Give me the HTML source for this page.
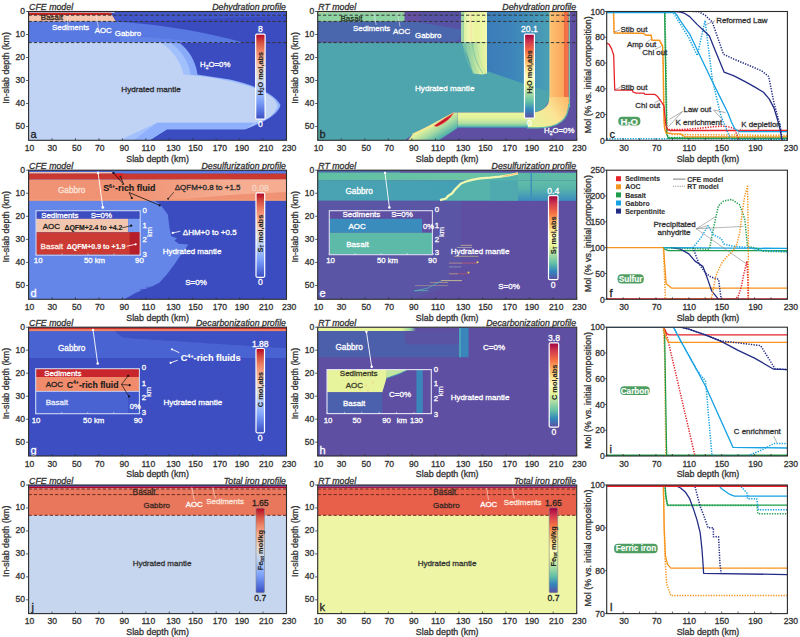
<!DOCTYPE html>
<html><head><meta charset="utf-8"><title>Slab profiles</title>
<style>html,body{margin:0;padding:0;background:#fff;width:800px;height:637px;overflow:hidden}svg{display:block}</style>
</head><body>
<svg width="800" height="637" viewBox="0 0 800 637" font-family='"Liberation Sans", Arial, sans-serif'><defs><linearGradient id="gcw" x1="0" y1="0" x2="0" y2="1"><stop offset="0" stop-color="#b30326"/><stop offset="0.1" stop-color="#d65243"/><stop offset="0.2" stop-color="#ed8467"/><stop offset="0.3" stop-color="#f6ab8d"/><stop offset="0.4" stop-color="#f1cab6"/><stop offset="0.5" stop-color="#dddcdb"/><stop offset="0.6" stop-color="#c0d3f5"/><stop offset="0.7" stop-color="#9dbdfe"/><stop offset="0.8" stop-color="#7b9ef8"/><stop offset="0.9" stop-color="#5876e2"/><stop offset="1" stop-color="#3a4cc0"/></linearGradient><linearGradient id="gsp" x1="0" y1="0" x2="0" y2="1"><stop offset="0" stop-color="#9e0142"/><stop offset="0.1" stop-color="#d33c4e"/><stop offset="0.2" stop-color="#f46d43"/><stop offset="0.3" stop-color="#fcac60"/><stop offset="0.4" stop-color="#fee08b"/><stop offset="0.5" stop-color="#fefebd"/><stop offset="0.6" stop-color="#e6f598"/><stop offset="0.7" stop-color="#a9dca4"/><stop offset="0.8" stop-color="#66c2a5"/><stop offset="0.9" stop-color="#3286bc"/><stop offset="1" stop-color="#5e4fa2"/></linearGradient><clipPath id="ca"><rect x="28.6" y="11.5" width="257.9" height="128.8"/></clipPath><clipPath id="cb"><rect x="317.7" y="11.5" width="259" height="128.8"/></clipPath><linearGradient id="gbblue" x1="0" y1="0" x2="1" y2="0"><stop offset="0" stop-color="#3b72b6"/><stop offset="0.6" stop-color="#3d86bb"/><stop offset="1" stop-color="#4aa0b4"/></linearGradient><linearGradient id="gbyel" x1="0" y1="0" x2="1" y2="0"><stop offset="0" stop-color="#c9e99d"/><stop offset="0.3" stop-color="#f0f8b0"/><stop offset="0.6" stop-color="#e9f59c"/><stop offset="1" stop-color="#f4fab0"/></linearGradient><linearGradient id="gborange" x1="0" y1="0" x2="1" y2="0"><stop offset="0" stop-color="#fee08b"/><stop offset="0.08" stop-color="#fdc070"/><stop offset="0.5" stop-color="#fcb265"/><stop offset="0.85" stop-color="#fba55c"/><stop offset="0.9" stop-color="#f46d43"/><stop offset="1" stop-color="#f46d43"/></linearGradient><linearGradient id="gbhz" x1="0" y1="0" x2="0" y2="1"><stop offset="0" stop-color="#eaf6a0"/><stop offset="0.35" stop-color="#e2f39c"/><stop offset="0.7" stop-color="#b2dfa2"/><stop offset="0.88" stop-color="#6ec4a6"/><stop offset="1" stop-color="#3a8cbd"/></linearGradient><linearGradient id="gbfan" x1="0" y1="0" x2="0" y2="1"><stop offset="0" stop-color="#e6f598"/><stop offset="1" stop-color="#7cc9a4"/></linearGradient><linearGradient id="gbfan2" gradientUnits="userSpaceOnUse" x1="461" y1="0" x2="487" y2="0"><stop offset="0" stop-color="#62b8a8"/><stop offset="0.45" stop-color="#a8daa2"/><stop offset="0.75" stop-color="#d8efa0"/><stop offset="1" stop-color="#eaf5a4"/></linearGradient><linearGradient id="gbcorner" gradientUnits="userSpaceOnUse" x1="566" y1="98" x2="530" y2="122"><stop offset="0" stop-color="#fdbb6c"/><stop offset="0.45" stop-color="#fbe596"/><stop offset="1" stop-color="#e4f39c"/></linearGradient><linearGradient id="gbdiag" gradientUnits="userSpaceOnUse" x1="438" y1="121" x2="449" y2="139"><stop offset="0" stop-color="#e0f29e"/><stop offset="0.35" stop-color="#a6daa3"/><stop offset="0.7" stop-color="#5cb8aa"/><stop offset="1" stop-color="#3d8cbc"/></linearGradient><clipPath id="cc"><rect x="606.7" y="11.5" width="180.7" height="128.8"/></clipPath><clipPath id="cf"><rect x="606.7" y="170.2" width="180.7" height="129.1"/></clipPath><clipPath id="ci"><rect x="606.7" y="327.2" width="180.7" height="128.8"/></clipPath><clipPath id="cl"><rect x="606.7" y="485" width="180.7" height="128.6"/></clipPath><clipPath id="cd"><rect x="28.6" y="170.2" width="257.9" height="129.1"/></clipPath><linearGradient id="gdsal" gradientUnits="userSpaceOnUse" x1="130" y1="0" x2="230" y2="0"><stop offset="0" stop-color="#f6b094" stop-opacity="0"/><stop offset="1" stop-color="#f6b094" stop-opacity="0.9"/></linearGradient><clipPath id="ce"><rect x="317.7" y="170.2" width="259" height="129.1"/></clipPath><linearGradient id="gegab" x1="0" y1="0" x2="1" y2="0"><stop offset="0" stop-color="#4aa3b2"/><stop offset="0.5" stop-color="#44a0b4"/><stop offset="0.75" stop-color="#3d90b9"/><stop offset="1" stop-color="#3a8bbb"/></linearGradient><linearGradient id="getop" x1="0" y1="0" x2="1" y2="0"><stop offset="0" stop-color="#5fc0a5"/><stop offset="0.6" stop-color="#6cc4a4"/><stop offset="0.8" stop-color="#5cb9a8"/><stop offset="1" stop-color="#60bea6"/></linearGradient><linearGradient id="geright" x1="0" y1="0" x2="0" y2="1"><stop offset="0" stop-color="#62bea6"/><stop offset="0.45" stop-color="#55b2ab"/><stop offset="1" stop-color="#3a8cbd"/></linearGradient><clipPath id="cg"><rect x="28.6" y="327.2" width="257.9" height="128.8"/></clipPath><clipPath id="ch"><rect x="317.7" y="327.2" width="259" height="128.8"/></clipPath><linearGradient id="ghtop" x1="0" y1="0" x2="1" y2="0"><stop offset="0" stop-color="#eaf59e"/><stop offset="0.85" stop-color="#e6f49a"/><stop offset="0.95" stop-color="#8fd0a4"/><stop offset="1" stop-color="#5e4fa2"/></linearGradient><clipPath id="cj"><rect x="28.6" y="485" width="257.9" height="128.6"/></clipPath><clipPath id="ck"><rect x="317.7" y="485" width="259" height="128.6"/></clipPath></defs><g clip-path="url(#ca)">
<rect x="28.6" y="11.5" width="257.9" height="128.8" fill="#3b4cc0" />
<polygon points="113,12 287,12 287,16 230,18 180,20 140,21.4 116,21.4" fill="#4257c9" />
<path d="M28.6,21.4 L116,21.4 C150,23.5 200,30 245,43 L28.6,43 Z" fill="#5878e2" stroke="none" stroke-width="1" />
<path d="M120,36 C150,37 175,39 200,43 L120,43 Z" fill="#6283e8" stroke="none" stroke-width="1" />
<path d="M28.6,42.6 L179,42.6 C189,50 196,62 197.5,74.5 L230,79.5 C255,85 275,94 280.5,105 C279,114 265,122 245,129.4 L167,129.4 L149.5,140.3 L28.6,140.3 Z" fill="#88aaf9" stroke="none" stroke-width="1" />
<path d="M28.6,42.6 L170,42.6 C181,50 189,62 190.5,74.5 L230,80 C255,86 273,95 279,105.5 C277,113 264,121 246,128.8 L167,128.8 L149.5,140.3 L28.6,140.3 Z" fill="#a2c0fc" stroke="none" stroke-width="1" />
<polygon points="157.4,122.4 254,122.4 246,128.8 167,128.8 149.5,140.3 133.7,140.3" fill="#8eaffc" />
<path d="M28.6,42.6 L161,42.6 C172,50 181,62 183.5,74.5 L200,76 C230,80 262,88 273,98 C279,104 278,110 270,117 C265,120 260,122 254,122.4 L157.4,122.4 L122.4,139 L120,140.3 L28.6,140.3 Z" fill="#c0d3f5" stroke="none" stroke-width="1" />
<rect x="28.6" y="11.5" width="86" height="1.3" fill="#e4e6ee" />
<polygon points="28.6,12.7 111,12.7 112,15.1 28.6,15.1" fill="#d42a24" />
<polygon points="28.6,15.1 112,15.1 116,21.4 28.6,21.4" fill="#f5c6ad" />
<line x1="28.6" y1="14.3" x2="112" y2="14.3" stroke="#8a1010" stroke-width="0.7" stroke-dasharray="1.5,1.5"/>
</g>
<line x1="28.6" y1="15.2" x2="286.5" y2="15.2" stroke="#333" stroke-width="1" stroke-dasharray="3.2,2.1"/>
<line x1="28.6" y1="21.4" x2="286.5" y2="21.4" stroke="#333" stroke-width="1" stroke-dasharray="3.2,2.1"/>
<line x1="28.6" y1="42.6" x2="286.5" y2="42.6" stroke="#333" stroke-width="1" stroke-dasharray="3.2,2.1"/>
<line x1="68" y1="25" x2="67" y2="16" stroke="#e8eefc" stroke-width="0.6" />
<line x1="98.5" y1="27.5" x2="96" y2="15.5" stroke="#e8eefc" stroke-width="0.6" />
<text x="40.8" y="20.4" font-size="8" fill="#3a2a20" text-anchor="start" font-weight="normal" font-style="normal" stroke="#3a2a20" stroke-width="0.3" >Basalt</text>
<text x="52" y="30" font-size="7.9" fill="#fff" text-anchor="start" font-weight="normal" font-style="normal" stroke="#fff" stroke-width="0.3" >Sediments</text>
<text x="94.7" y="33.4" font-size="7.9" fill="#fff" text-anchor="start" font-weight="normal" font-style="normal" stroke="#fff" stroke-width="0.3" >AOC</text>
<text x="114.8" y="36" font-size="7.9" fill="#fff" text-anchor="start" font-weight="normal" font-style="normal" stroke="#fff" stroke-width="0.3" >Gabbro</text>
<text x="200" y="67" font-size="7.8" fill="#fff" text-anchor="start" font-weight="normal" font-style="normal" stroke="#fff" stroke-width="0.3" >H<tspan font-size="5" dy="1.5">2</tspan><tspan dy="-1.5">O=0%</tspan></text>
<text x="151" y="91.8" font-size="8.1" fill="#2a2a2a" text-anchor="middle" font-weight="normal" font-style="normal" stroke="#2a2a2a" stroke-width="0.3" >Hydrated mantle</text>
<rect x="255.7" y="34.1" width="9.4" height="85.1" rx="1.2" fill="url(#gcw)" stroke="#fff" stroke-width="1.2"/>
<text x="260.4" y="32.3" font-size="8.6" fill="#fff" text-anchor="middle" font-weight="normal" font-style="normal" stroke="#fff" stroke-width="0.3" >8</text>
<text x="260.4" y="127" font-size="8.6" fill="#fff" text-anchor="middle" font-weight="normal" font-style="normal" stroke="#fff" stroke-width="0.3" >0</text>
<text transform="translate(263,73.6) rotate(-90)" font-size="7.4" font-weight="bold" fill="#222" stroke="#222" stroke-width="0.1" text-anchor="middle">H<tspan font-size="4.5" dy="1.2">2</tspan><tspan dy="-1.2">O mol,abs</tspan></text>
<text x="30.5" y="137.5" font-size="11" fill="#222" text-anchor="start" font-weight="normal" font-style="normal" stroke="#222" stroke-width="0.3" >a</text>
<rect x="28.6" y="11.5" width="257.9" height="128.8" fill="none" stroke="#2b2b2b" stroke-width="1.1"/>
<g clip-path="url(#cb)">
<rect x="317.7" y="11.5" width="259" height="128.8" fill="#5e4fa2" />
<rect x="461" y="11.5" width="89" height="90" fill="url(#gbblue)" />
<polygon points="404,12 420,12 420,21.4 404,21.4" fill="#6550a4" />
<polygon points="420,12 461,12 461,42.5 420,42.5" fill="#5653a6" />
<path d="M317.7,21.4 L415,21.4 L461,29.5 L461,35 Q461,41.5 453,41.5 L317.7,41.5 Z" fill="#4a67ad" stroke="none" stroke-width="1" />
<polygon points="317.7,42.5 461,42.5 470,52 480,64 487,71 527,84.8 549.5,92 549.5,100 545,108 536,112.5 453,112.5 412.5,134.5 405,140.3 317.7,140.3" fill="#4fa5ad" />
<rect x="461" y="11.5" width="26" height="31" fill="url(#gbyel)" />
<path d="M461,42.5 L487,42.5 L487,73.5 L482,74.5 L473,73.5 C470,62 466,50 461,42.5 Z" fill="url(#gbfan2)" stroke="none" stroke-width="1" />
<path d="M463,42.5 Q465,60 474,73.5" fill="none" stroke="#7cc6a6" stroke-width="0.7" />
<path d="M467,42.5 Q469,60 478,73.5" fill="none" stroke="#9ed6a2" stroke-width="0.7" />
<path d="M472,42.5 Q474,60 483,73.5" fill="none" stroke="#70c0a8" stroke-width="0.7" />
<path d="M476,42.5 Q478,60 486,73.5" fill="none" stroke="#b8e2a0" stroke-width="0.7" />
<rect x="461" y="11.5" width="3" height="31" fill="#9fd6a3" />
<rect x="470.5" y="11.5" width="1" height="31" fill="#fbe0a0" />
<rect x="549.5" y="11.5" width="16.5" height="93" fill="url(#gborange)" />
<rect x="566" y="11.5" width="2.7" height="93" fill="#f37048" />
<rect x="568.7" y="11.5" width="1.3" height="96" fill="#74c4a8" />
<path d="M549.5,97 C549.5,107 542,113 527,113 L527,127.8 L538,127.8 C560,127.8 568.7,118 568.7,104 L568.7,97 Z" fill="url(#gbcorner)" stroke="none" stroke-width="1" />
<path d="M527,127.8 L538,127.8 C560,127.8 568.7,118 568.7,104" fill="none" stroke="#5cb8a8" stroke-width="1.2" />
<polygon points="457.5,112.5 528,112.5 528,127.8 457.5,127.8" fill="url(#gbhz)" />
<polygon points="412.5,134.5 453,112.5 457.5,112.5 457.5,128 439,140.3 408,140.3" fill="url(#gbdiag)" />
<path d="M412.5,134.4 Q425,128.5 436,124.6" fill="none" stroke="#f8e890" stroke-width="1.6" />
<path d="M434,125.8 Q445,118 453.5,113.2 Q449,121 437,126.6 Z" fill="#cc1530" stroke="#f46d43" stroke-width="0.6" />
<rect x="317.7" y="12.3" width="86.8" height="9.1" fill="#8fd3a3" />
<rect x="317.7" y="11.5" width="86.8" height="0.9" fill="#d8f0a0" />
<rect x="317.7" y="11.5" width="10" height="0.9" fill="#f5f7a0" />
</g>
<line x1="317.7" y1="15.2" x2="576.7" y2="15.2" stroke="#333" stroke-width="1" stroke-dasharray="3.2,2.1"/>
<line x1="317.7" y1="21.4" x2="576.7" y2="21.4" stroke="#333" stroke-width="1" stroke-dasharray="3.2,2.1"/>
<line x1="317.7" y1="42.6" x2="576.7" y2="42.6" stroke="#333" stroke-width="1" stroke-dasharray="3.2,2.1"/>
<line x1="376.2" y1="24.9" x2="373.7" y2="13" stroke="#e8eefc" stroke-width="0.6" />
<line x1="400" y1="26.7" x2="397.5" y2="13" stroke="#e8eefc" stroke-width="0.6" />
<text x="340.6" y="20.8" font-size="7.9" fill="#2d3a2a" text-anchor="start" font-weight="normal" font-style="normal" stroke="#2d3a2a" stroke-width="0.3" >Basalt</text>
<text x="353" y="31.1" font-size="7.9" fill="#fff" text-anchor="start" font-weight="normal" font-style="normal" stroke="#fff" stroke-width="0.3" >Sediments</text>
<text x="393" y="34.3" font-size="7.9" fill="#fff" text-anchor="start" font-weight="normal" font-style="normal" stroke="#fff" stroke-width="0.3" >AOC</text>
<text x="415" y="37.7" font-size="7.9" fill="#fff" text-anchor="start" font-weight="normal" font-style="normal" stroke="#fff" stroke-width="0.3" >Gabbro</text>
<text x="444.7" y="91.3" font-size="8.1" fill="#fff" text-anchor="middle" font-weight="normal" font-style="normal" stroke="#fff" stroke-width="0.3" >Hydrated mantle</text>
<text x="544" y="133.4" font-size="7.8" fill="#fff" text-anchor="start" font-weight="normal" font-style="normal" stroke="#fff" stroke-width="0.3" >H<tspan font-size="5" dy="1.5">2</tspan><tspan dy="-1.5">O=0%</tspan></text>
<rect x="524.5" y="34.1" width="9.9" height="84.1" rx="1.2" fill="url(#gsp)" stroke="#fff" stroke-width="1.2"/>
<text x="529.45" y="32.3" font-size="8.6" fill="#fff" text-anchor="middle" font-weight="normal" font-style="normal" stroke="#fff" stroke-width="0.3" >20.1</text>
<text x="529.45" y="126" font-size="8.6" fill="#fff" text-anchor="middle" font-weight="normal" font-style="normal" stroke="#fff" stroke-width="0.3" >0</text>
<text transform="translate(532.05,72) rotate(-90)" font-size="7.4" font-weight="bold" fill="#222" stroke="#222" stroke-width="0.1" text-anchor="middle">H<tspan font-size="4.5" dy="1.2">2</tspan><tspan dy="-1.2">O mol,abs</tspan></text>
<text x="319.6" y="137.5" font-size="11" fill="#222" text-anchor="start" font-weight="normal" font-style="normal" stroke="#222" stroke-width="0.3" >b</text>
<rect x="317.7" y="11.5" width="259" height="128.8" fill="none" stroke="#2b2b2b" stroke-width="1.1"/>
<rect x="606.7" y="11.5" width="180.7" height="128.8" fill="#fff"/>
<g clip-path="url(#cc)">
<polyline points="606.7,138.63 787.4,138.63" fill="none" stroke="#17a2e3" stroke-width="1.5" stroke-linejoin="round" stroke-dasharray="1.3,1.3"/>
<polyline points="606.7,11.5 664.61,11.5 666.66,133.86 668.3,138.24 787.4,138.24" fill="none" stroke="#1f9d4c" stroke-width="1.3" stroke-linejoin="round" />
<polyline points="606.7,11.5 665.02,11.5 667.07,135.15 669.12,137.47 787.4,137.47" fill="none" stroke="#1f9d4c" stroke-width="1.5" stroke-linejoin="round" stroke-dasharray="1.3,1.3"/>
<polyline points="606.7,11.5 613.52,11.5 614.09,33.01 643.66,33.4 646.13,35.33 651.05,35.07 652.12,40.35 659.43,40.35 662.55,45.63 663.21,63.02 663.78,114.54 664.61,128.71 666,133.09 672.41,133.6 680.62,133.86 684.73,136.82 787.4,136.82" fill="none" stroke="#f7941d" stroke-width="1.3" stroke-linejoin="round" />
<polyline points="606.7,11.5 613.52,11.5 614.09,33.01 643.66,33.4 646.13,35.33 651.05,35.33 652.12,40.35 659.43,40.35 662.55,46.28 663.37,75.9 664.2,124.84 665.84,131.28 672.41,134.5 721.69,134.89 787.4,135.41" fill="none" stroke="#f7941d" stroke-width="1.5" stroke-linejoin="round" stroke-dasharray="1.3,1.3"/>
<polyline points="606.7,43.06 609.16,44.34 611.63,48.85 613.68,55.29 614.5,82.34 614.75,90.07 632.49,90.07 632.98,92 636.02,93.03 643.99,93.03 644.98,94.45 655,94.45 657.62,96.51 660.91,101.02 664.03,106.04 665.02,117.12 666,125.62 667.48,129.35 669.95,130.51 787.4,130.51" fill="none" stroke="#e5242b" stroke-width="1.3" stroke-linejoin="round" />
<polyline points="668.71,129.61 680.62,129.61 697.05,128.45 713.48,126.78 721.69,126.13 728.02,126.65 732.37,127.94 734.59,128.97 736.48,133.86 738.61,139.91" fill="none" stroke="#e5242b" stroke-width="1.5" stroke-linejoin="round" stroke-dasharray="1.3,1.3"/>
<polyline points="606.7,11.5 673.72,11.5 676.52,14.72 680.62,21.16 689.99,34.68 711.59,80.02 721.69,100.37 728.02,113.25 731.55,122.27 734.83,128.71 738.61,131.28 742.23,131.67 787.4,131.67" fill="none" stroke="#17a2e3" stroke-width="1.3" stroke-linejoin="round" />
<polyline points="606.7,11.5 672.41,11.5 675.69,16.65 688.84,37.9 697.21,55.55 705.1,20.52 712.33,79.76 720.87,115.83 730.73,139.53 787.4,139.53" fill="none" stroke="#17a2e3" stroke-width="1.5" stroke-linejoin="round" stroke-dasharray="1.3,1.3"/>
<polyline points="675.28,11.5 680.62,12.14 684.73,13.43 689.66,16.65 697.05,24.38 704.44,31.21 709.37,35.97 715.12,50.14 724.07,72.04 734.01,75.9 745.1,81.7 754.55,86.85 763.5,92.26 769.33,99.08 774.01,108.1 777.54,119.69 780.58,131.67 781.9,140.3" fill="none" stroke="#232c84" stroke-width="1.3" stroke-linejoin="round" />
<polyline points="692.94,11.5 698.69,11.76 705.26,15.36 712.33,22.06 717.58,37.26 723.5,54.26 734.01,59.16 746.33,64.31 761.53,70.75 768.67,76.54 774.01,102.95 780.58,127.68 782.06,140.3" fill="none" stroke="#232c84" stroke-width="1.5" stroke-linejoin="round" stroke-dasharray="1.3,1.3"/>
<polyline points="606.7,12.4 673.72,12.4" fill="none" stroke="#17a2e3" stroke-width="1.6" stroke-linejoin="round" />
</g>
<line x1="614.4" y1="31.9" x2="620" y2="30" stroke="#777" stroke-width="0.6" />
<text x="620.6" y="32.3" font-size="7.9" fill="#333" text-anchor="start" font-weight="normal" font-style="normal" stroke="#333" stroke-width="0.3" >Stlb out</text>
<line x1="646" y1="43.1" x2="651" y2="39" stroke="#777" stroke-width="0.6" />
<text x="626.9" y="46.9" font-size="7.9" fill="#333" text-anchor="start" font-weight="normal" font-style="normal" stroke="#333" stroke-width="0.3" >Amp out</text>
<line x1="655" y1="49.4" x2="661.3" y2="46.3" stroke="#777" stroke-width="0.6" />
<text x="642.3" y="55" font-size="7.9" fill="#333" text-anchor="start" font-weight="normal" font-style="normal" stroke="#333" stroke-width="0.3" >Chl out</text>
<line x1="615" y1="89.5" x2="620.6" y2="87.2" stroke="#777" stroke-width="0.6" />
<text x="620.6" y="89.6" font-size="7.9" fill="#333" text-anchor="start" font-weight="normal" font-style="normal" stroke="#333" stroke-width="0.3" >Stlb out</text>
<line x1="655" y1="102.5" x2="661" y2="99.5" stroke="#777" stroke-width="0.6" />
<text x="635.3" y="107.5" font-size="7.9" fill="#333" text-anchor="start" font-weight="normal" font-style="normal" stroke="#333" stroke-width="0.3" >Chl out</text>
<text x="683.5" y="111.9" font-size="7.9" fill="#333" text-anchor="start" font-weight="normal" font-style="normal" stroke="#333" stroke-width="0.3" >Law out</text>
<line x1="682.5" y1="111.5" x2="669.4" y2="119.4" stroke="#777" stroke-width="0.6" />
<line x1="682.5" y1="111.5" x2="668.5" y2="126.5" stroke="#777" stroke-width="0.6" />
<line x1="713.6" y1="110" x2="725.4" y2="112.6" stroke="#777" stroke-width="0.6" />
<line x1="713.6" y1="110" x2="721.5" y2="118.6" stroke="#777" stroke-width="0.6" />
<text x="675.6" y="125.1" font-size="7.9" fill="#333" text-anchor="start" font-weight="normal" font-style="normal" stroke="#333" stroke-width="0.3" >K enrichment</text>
<text x="741.2" y="127" font-size="7.9" fill="#333" text-anchor="start" font-weight="normal" font-style="normal" stroke="#333" stroke-width="0.3" >K depletion</text>
<line x1="741" y1="128.5" x2="737" y2="136" stroke="#777" stroke-width="0.6" />
<text x="716.2" y="22.7" font-size="7.9" fill="#333" text-anchor="start" font-weight="normal" font-style="normal" stroke="#333" stroke-width="0.3" >Reformed Law</text>
<line x1="706" y1="24.5" x2="715" y2="20.8" stroke="#777" stroke-width="0.6" />
<rect x="618.3" y="116.8" width="22.1" height="8.7" rx="4" fill="#4e9e62"/>
<text x="629.35" y="124.61" font-size="9.6" fill="#fff" text-anchor="middle" font-weight="bold" font-style="normal" stroke="#fff" stroke-width="0.12" >H<tspan font-size="5.5" dy="1.5">2</tspan><tspan dy="-1.5">O</tspan></text>
<text x="609.5" y="137.5" font-size="11" fill="#222" text-anchor="start" font-weight="normal" font-style="normal" stroke="#222" stroke-width="0.3" >c</text>
<line x1="606.7" y1="140.3" x2="606.7" y2="138.3" stroke="#333" stroke-width="0.8" />
<line x1="623.13" y1="140.3" x2="623.13" y2="138.3" stroke="#333" stroke-width="0.8" />
<line x1="639.55" y1="140.3" x2="639.55" y2="138.3" stroke="#333" stroke-width="0.8" />
<line x1="655.98" y1="140.3" x2="655.98" y2="138.3" stroke="#333" stroke-width="0.8" />
<line x1="672.41" y1="140.3" x2="672.41" y2="138.3" stroke="#333" stroke-width="0.8" />
<line x1="688.84" y1="140.3" x2="688.84" y2="138.3" stroke="#333" stroke-width="0.8" />
<line x1="705.26" y1="140.3" x2="705.26" y2="138.3" stroke="#333" stroke-width="0.8" />
<line x1="721.69" y1="140.3" x2="721.69" y2="138.3" stroke="#333" stroke-width="0.8" />
<line x1="738.12" y1="140.3" x2="738.12" y2="138.3" stroke="#333" stroke-width="0.8" />
<line x1="754.55" y1="140.3" x2="754.55" y2="138.3" stroke="#333" stroke-width="0.8" />
<line x1="770.97" y1="140.3" x2="770.97" y2="138.3" stroke="#333" stroke-width="0.8" />
<line x1="787.4" y1="140.3" x2="787.4" y2="138.3" stroke="#333" stroke-width="0.8" />
<text x="624.13" y="150.9" font-size="8.6" fill="#333" text-anchor="middle" font-weight="normal" font-style="normal" stroke="#333" stroke-width="0.3" >30</text>
<text x="656.88" y="150.9" font-size="8.6" fill="#333" text-anchor="middle" font-weight="normal" font-style="normal" stroke="#333" stroke-width="0.3" >70</text>
<text x="689.24" y="150.9" font-size="8.6" fill="#333" text-anchor="middle" font-weight="normal" font-style="normal" stroke="#333" stroke-width="0.3" >110</text>
<text x="721.99" y="150.9" font-size="8.6" fill="#333" text-anchor="middle" font-weight="normal" font-style="normal" stroke="#333" stroke-width="0.3" >150</text>
<text x="755.45" y="150.9" font-size="8.6" fill="#333" text-anchor="middle" font-weight="normal" font-style="normal" stroke="#333" stroke-width="0.3" >190</text>
<text x="790.8" y="150.9" font-size="8.6" fill="#333" text-anchor="middle" font-weight="normal" font-style="normal" stroke="#333" stroke-width="0.3" >230</text>
<line x1="604.5" y1="140.3" x2="606.7" y2="140.3" stroke="#333" stroke-width="0.8" />
<text x="604.9" y="143.5" font-size="8.6" fill="#333" text-anchor="end" font-weight="normal" font-style="normal" stroke="#333" stroke-width="0.3" >0</text>
<line x1="604.5" y1="114.54" x2="606.7" y2="114.54" stroke="#333" stroke-width="0.8" />
<text x="604.9" y="117.74" font-size="8.6" fill="#333" text-anchor="end" font-weight="normal" font-style="normal" stroke="#333" stroke-width="0.3" >20</text>
<line x1="604.5" y1="88.78" x2="606.7" y2="88.78" stroke="#333" stroke-width="0.8" />
<text x="604.9" y="91.98" font-size="8.6" fill="#333" text-anchor="end" font-weight="normal" font-style="normal" stroke="#333" stroke-width="0.3" >40</text>
<line x1="604.5" y1="63.02" x2="606.7" y2="63.02" stroke="#333" stroke-width="0.8" />
<text x="604.9" y="66.22" font-size="8.6" fill="#333" text-anchor="end" font-weight="normal" font-style="normal" stroke="#333" stroke-width="0.3" >60</text>
<line x1="604.5" y1="37.26" x2="606.7" y2="37.26" stroke="#333" stroke-width="0.8" />
<text x="604.9" y="40.46" font-size="8.6" fill="#333" text-anchor="end" font-weight="normal" font-style="normal" stroke="#333" stroke-width="0.3" >80</text>
<line x1="604.5" y1="11.5" x2="606.7" y2="11.5" stroke="#333" stroke-width="0.8" />
<text x="604.9" y="14.7" font-size="8.6" fill="#333" text-anchor="end" font-weight="normal" font-style="normal" stroke="#333" stroke-width="0.3" >100</text>
<rect x="606.7" y="11.5" width="180.7" height="128.8" fill="none" stroke="#2b2b2b" stroke-width="1.1"/>
<rect x="606.7" y="170.2" width="180.7" height="129.1" fill="#fff"/>
<g clip-path="url(#cf)">
<polyline points="606.7,298.99 787.4,298.99" fill="none" stroke="#e5242b" stroke-width="1.6" stroke-linejoin="round" />
<polyline points="606.7,247.66 663.54,247.66 666.08,283.39 671.42,288.09 787.4,288.09" fill="none" stroke="#f7941d" stroke-width="1.3" stroke-linejoin="round" />
<polyline points="663.37,248.18 665.84,249.73 668.3,250.6 787.4,250.6" fill="none" stroke="#1f9d4c" stroke-width="1.3" stroke-linejoin="round" />
<polyline points="663.37,247.66 787.4,248.43" fill="none" stroke="#17a2e3" stroke-width="1.3" stroke-linejoin="round" />
<polyline points="671.42,247.66 680.62,249.21 688.84,253.86 695,261.09 702.8,266.25 706.82,276.84 711.83,291.19 718.57,299.3" fill="none" stroke="#232c84" stroke-width="1.3" stroke-linejoin="round" />
<polyline points="692.94,247.66 698.94,263.67 705.51,272.96 710.68,276.84 718.57,279.42 721.2,299.3" fill="none" stroke="#232c84" stroke-width="1.5" stroke-linejoin="round" stroke-dasharray="1.3,1.3"/>
<polyline points="663.37,247.66 709.37,249.21 712.66,232.17 718.41,205.83 723.33,201.18 731.55,199.38 739.6,204.8 742.64,212.54 744.94,220.29 747.48,246.63 751.26,247.14 758,248.69 762.76,251.27 787.4,251.79" fill="none" stroke="#1f9d4c" stroke-width="1.5" stroke-linejoin="round" stroke-dasharray="1.3,1.3"/>
<polyline points="664.2,247.66 692.94,247.66 701.16,237.33 708.14,225.61 713.4,234.75 721.2,238.62 723.91,244.05 729.9,245.59 736.97,246.63 750.44,247.66 758.65,250.24 787.4,251.53" fill="none" stroke="#17a2e3" stroke-width="1.5" stroke-linejoin="round" stroke-dasharray="1.3,1.3"/>
<polyline points="663.37,247.66 664.61,278.64 665.43,299.3 711.26,299.3 715.94,275.55 721.69,263.15 726.45,257.11 732.37,251.79 736.97,244.05 739.76,232.17 742.23,212.54 744.69,196.02 747.48,186.21 748.3,237.33 748.47,299.3" fill="none" stroke="#f7941d" stroke-width="1.5" stroke-linejoin="round" stroke-dasharray="1.3,1.3"/>
<polyline points="606.7,299.3 734.01,299.3 738.12,296.72 741.4,286.39 743.46,275.55 746.99,261.09 747.97,283.81 748.22,299.3" fill="none" stroke="#e5242b" stroke-width="1.5" stroke-linejoin="round" stroke-dasharray="1.3,1.3"/>
</g>
<line x1="696.3" y1="228.8" x2="716" y2="216.4" stroke="#888" stroke-width="0.6" />
<line x1="696.3" y1="228.8" x2="708" y2="225.6" stroke="#888" stroke-width="0.6" />
<line x1="696.3" y1="228.8" x2="743.5" y2="226.4" stroke="#888" stroke-width="0.6" />
<line x1="696.3" y1="228.8" x2="746.2" y2="263.7" stroke="#888" stroke-width="0.6" />
<text x="674.6" y="227" font-size="8" fill="#333" text-anchor="middle" font-weight="normal" font-style="normal" stroke="#333" stroke-width="0.3" >Precipitated</text>
<text x="674" y="234.8" font-size="8" fill="#333" text-anchor="middle" font-weight="normal" font-style="normal" stroke="#333" stroke-width="0.3" >anhydrite</text>
<rect x="616" y="176.2" width="5" height="5" fill="#e5242b" />
<text x="625.2" y="181.3" font-size="6.9" fill="#333" text-anchor="start" font-weight="bold" font-style="normal" stroke="#333" stroke-width="0.12" >Sediments</text>
<rect x="616" y="184.3" width="5" height="5" fill="#f7941d" />
<text x="625.2" y="189.4" font-size="6.9" fill="#333" text-anchor="start" font-weight="bold" font-style="normal" stroke="#333" stroke-width="0.12" >AOC</text>
<rect x="616" y="192.4" width="5" height="5" fill="#1f9d4c" />
<text x="625.2" y="197.5" font-size="6.9" fill="#333" text-anchor="start" font-weight="bold" font-style="normal" stroke="#333" stroke-width="0.12" >Basalt</text>
<rect x="616" y="200.5" width="5" height="5" fill="#17a2e3" />
<text x="625.2" y="205.6" font-size="6.9" fill="#333" text-anchor="start" font-weight="bold" font-style="normal" stroke="#333" stroke-width="0.12" >Gabbro</text>
<rect x="616" y="208.6" width="5" height="5" fill="#232c84" />
<text x="625.2" y="213.7" font-size="6.9" fill="#333" text-anchor="start" font-weight="bold" font-style="normal" stroke="#333" stroke-width="0.12" >Serpentinite</text>
<line x1="673" y1="179.1" x2="685.4" y2="179.1" stroke="#888" stroke-width="1.1" />
<text x="687.3" y="181.6" font-size="6.9" fill="#333" text-anchor="start" font-weight="bold" font-style="normal" stroke="#333" stroke-width="0.12" >CFE model</text>
<line x1="673" y1="186.3" x2="685.4" y2="186.3" stroke="#999" stroke-width="1.1" stroke-dasharray="1,0.8"/>
<text x="687.3" y="188.8" font-size="6.9" fill="#333" text-anchor="start" font-weight="bold" font-style="normal" stroke="#333" stroke-width="0.12" >RT model</text>
<rect x="617.6" y="274.2" width="26.2" height="9.2" rx="4" fill="#4e9e62"/>
<text x="630.7" y="281.75" font-size="8.2" fill="#fff" text-anchor="middle" font-weight="bold" font-style="normal" stroke="#fff" stroke-width="0.12" >Sulfur</text>
<text x="609.5" y="296.5" font-size="11" fill="#222" text-anchor="start" font-weight="normal" font-style="normal" stroke="#222" stroke-width="0.3" >f</text>
<line x1="606.7" y1="299.3" x2="606.7" y2="297.3" stroke="#333" stroke-width="0.8" />
<line x1="623.13" y1="299.3" x2="623.13" y2="297.3" stroke="#333" stroke-width="0.8" />
<line x1="639.55" y1="299.3" x2="639.55" y2="297.3" stroke="#333" stroke-width="0.8" />
<line x1="655.98" y1="299.3" x2="655.98" y2="297.3" stroke="#333" stroke-width="0.8" />
<line x1="672.41" y1="299.3" x2="672.41" y2="297.3" stroke="#333" stroke-width="0.8" />
<line x1="688.84" y1="299.3" x2="688.84" y2="297.3" stroke="#333" stroke-width="0.8" />
<line x1="705.26" y1="299.3" x2="705.26" y2="297.3" stroke="#333" stroke-width="0.8" />
<line x1="721.69" y1="299.3" x2="721.69" y2="297.3" stroke="#333" stroke-width="0.8" />
<line x1="738.12" y1="299.3" x2="738.12" y2="297.3" stroke="#333" stroke-width="0.8" />
<line x1="754.55" y1="299.3" x2="754.55" y2="297.3" stroke="#333" stroke-width="0.8" />
<line x1="770.97" y1="299.3" x2="770.97" y2="297.3" stroke="#333" stroke-width="0.8" />
<line x1="787.4" y1="299.3" x2="787.4" y2="297.3" stroke="#333" stroke-width="0.8" />
<text x="624.13" y="309.9" font-size="8.6" fill="#333" text-anchor="middle" font-weight="normal" font-style="normal" stroke="#333" stroke-width="0.3" >30</text>
<text x="656.88" y="309.9" font-size="8.6" fill="#333" text-anchor="middle" font-weight="normal" font-style="normal" stroke="#333" stroke-width="0.3" >70</text>
<text x="689.24" y="309.9" font-size="8.6" fill="#333" text-anchor="middle" font-weight="normal" font-style="normal" stroke="#333" stroke-width="0.3" >110</text>
<text x="721.99" y="309.9" font-size="8.6" fill="#333" text-anchor="middle" font-weight="normal" font-style="normal" stroke="#333" stroke-width="0.3" >150</text>
<text x="755.45" y="309.9" font-size="8.6" fill="#333" text-anchor="middle" font-weight="normal" font-style="normal" stroke="#333" stroke-width="0.3" >190</text>
<text x="790.8" y="309.9" font-size="8.6" fill="#333" text-anchor="middle" font-weight="normal" font-style="normal" stroke="#333" stroke-width="0.3" >230</text>
<line x1="604.5" y1="299.3" x2="606.7" y2="299.3" stroke="#333" stroke-width="0.8" />
<text x="604.9" y="302.5" font-size="8.6" fill="#333" text-anchor="end" font-weight="normal" font-style="normal" stroke="#333" stroke-width="0.3" >0</text>
<line x1="604.5" y1="273.48" x2="606.7" y2="273.48" stroke="#333" stroke-width="0.8" />
<text x="604.9" y="276.68" font-size="8.6" fill="#333" text-anchor="end" font-weight="normal" font-style="normal" stroke="#333" stroke-width="0.3" >50</text>
<line x1="604.5" y1="247.66" x2="606.7" y2="247.66" stroke="#333" stroke-width="0.8" />
<text x="604.9" y="250.86" font-size="8.6" fill="#333" text-anchor="end" font-weight="normal" font-style="normal" stroke="#333" stroke-width="0.3" >100</text>
<line x1="604.5" y1="221.84" x2="606.7" y2="221.84" stroke="#333" stroke-width="0.8" />
<text x="604.9" y="225.04" font-size="8.6" fill="#333" text-anchor="end" font-weight="normal" font-style="normal" stroke="#333" stroke-width="0.3" >150</text>
<line x1="604.5" y1="196.02" x2="606.7" y2="196.02" stroke="#333" stroke-width="0.8" />
<text x="604.9" y="199.22" font-size="8.6" fill="#333" text-anchor="end" font-weight="normal" font-style="normal" stroke="#333" stroke-width="0.3" >200</text>
<line x1="604.5" y1="170.2" x2="606.7" y2="170.2" stroke="#333" stroke-width="0.8" />
<text x="604.9" y="173.4" font-size="8.6" fill="#333" text-anchor="end" font-weight="normal" font-style="normal" stroke="#333" stroke-width="0.3" >250</text>
<rect x="606.7" y="170.2" width="180.7" height="129.1" fill="none" stroke="#2b2b2b" stroke-width="1.1"/>
<rect x="606.7" y="327.2" width="180.7" height="128.8" fill="#fff"/>
<g clip-path="url(#ci)">
<polyline points="606.7,455.36 787.4,455.36" fill="none" stroke="#1f9d4c" stroke-width="1.6" stroke-linejoin="round" />
<polyline points="663.37,327.2 664.61,352.96 665.84,456" fill="none" stroke="#f7941d" stroke-width="1.5" stroke-linejoin="round" stroke-dasharray="1.3,1.3"/>
<polyline points="663.37,327.2 664.61,333.64 666.66,456" fill="none" stroke="#1f9d4c" stroke-width="1.3" stroke-linejoin="round" />
<polyline points="663.37,327.2 667.4,337.76 695,456" fill="none" stroke="#e5242b" stroke-width="1.5" stroke-linejoin="round" stroke-dasharray="1.3,1.3"/>
<polyline points="606.7,327.2 663.37,327.2 665.02,329.78 666.66,333.64 669.12,334.93 787.4,334.93" fill="none" stroke="#e5242b" stroke-width="1.3" stroke-linejoin="round" />
<polyline points="663.37,327.2 665.84,337.5 668.3,342.01 670.77,342.4 787.4,342.4" fill="none" stroke="#f7941d" stroke-width="1.3" stroke-linejoin="round" />
<polyline points="606.7,327.2 680.62,327.2 688.84,329.13 705.26,334.93 721.69,341.63 738.12,350.38 754.55,358.11 773.68,369.19 787.4,369.7" fill="none" stroke="#232c84" stroke-width="1.3" stroke-linejoin="round" />
<polyline points="680.62,327.2 688.84,329.13 705.26,334.93 721.69,341.11 729.9,341.88 760.62,345.62 775.08,368.8 787.4,369.45" fill="none" stroke="#232c84" stroke-width="1.5" stroke-linejoin="round" stroke-dasharray="1.3,1.3"/>
<polyline points="606.7,327.2 673.48,327.2 680.62,340.72 697.05,370.35 705.51,386.19 733.03,447.37 787.4,448.01" fill="none" stroke="#17a2e3" stroke-width="1.3" stroke-linejoin="round" />
<polyline points="673.48,327.2 680.62,340.72 697.05,370.35 705.51,381.04 706.5,391.6 712,456 747.48,456 762.76,449.56 773.68,443.51 787.4,443.51" fill="none" stroke="#17a2e3" stroke-width="1.5" stroke-linejoin="round" stroke-dasharray="1.3,1.3"/>
</g>
<text x="733.8" y="433.5" font-size="7.9" fill="#333" text-anchor="start" font-weight="normal" font-style="normal" stroke="#333" stroke-width="0.3" >C enrichment</text>
<line x1="773.7" y1="436" x2="776.9" y2="442.7" stroke="#777" stroke-width="0.6" />
<rect x="620.2" y="386.2" width="29.6" height="8.7" rx="4" fill="#4e9e62"/>
<text x="635" y="393.5" font-size="8.2" fill="#fff" text-anchor="middle" font-weight="bold" font-style="normal" stroke="#fff" stroke-width="0.12" >Carbon</text>
<text x="609.5" y="453" font-size="11" fill="#222" text-anchor="start" font-weight="normal" font-style="normal" stroke="#222" stroke-width="0.3" >i</text>
<line x1="606.7" y1="456" x2="606.7" y2="454" stroke="#333" stroke-width="0.8" />
<line x1="623.13" y1="456" x2="623.13" y2="454" stroke="#333" stroke-width="0.8" />
<line x1="639.55" y1="456" x2="639.55" y2="454" stroke="#333" stroke-width="0.8" />
<line x1="655.98" y1="456" x2="655.98" y2="454" stroke="#333" stroke-width="0.8" />
<line x1="672.41" y1="456" x2="672.41" y2="454" stroke="#333" stroke-width="0.8" />
<line x1="688.84" y1="456" x2="688.84" y2="454" stroke="#333" stroke-width="0.8" />
<line x1="705.26" y1="456" x2="705.26" y2="454" stroke="#333" stroke-width="0.8" />
<line x1="721.69" y1="456" x2="721.69" y2="454" stroke="#333" stroke-width="0.8" />
<line x1="738.12" y1="456" x2="738.12" y2="454" stroke="#333" stroke-width="0.8" />
<line x1="754.55" y1="456" x2="754.55" y2="454" stroke="#333" stroke-width="0.8" />
<line x1="770.97" y1="456" x2="770.97" y2="454" stroke="#333" stroke-width="0.8" />
<line x1="787.4" y1="456" x2="787.4" y2="454" stroke="#333" stroke-width="0.8" />
<text x="624.13" y="466.6" font-size="8.6" fill="#333" text-anchor="middle" font-weight="normal" font-style="normal" stroke="#333" stroke-width="0.3" >30</text>
<text x="656.88" y="466.6" font-size="8.6" fill="#333" text-anchor="middle" font-weight="normal" font-style="normal" stroke="#333" stroke-width="0.3" >70</text>
<text x="689.24" y="466.6" font-size="8.6" fill="#333" text-anchor="middle" font-weight="normal" font-style="normal" stroke="#333" stroke-width="0.3" >110</text>
<text x="721.99" y="466.6" font-size="8.6" fill="#333" text-anchor="middle" font-weight="normal" font-style="normal" stroke="#333" stroke-width="0.3" >150</text>
<text x="755.45" y="466.6" font-size="8.6" fill="#333" text-anchor="middle" font-weight="normal" font-style="normal" stroke="#333" stroke-width="0.3" >190</text>
<text x="790.8" y="466.6" font-size="8.6" fill="#333" text-anchor="middle" font-weight="normal" font-style="normal" stroke="#333" stroke-width="0.3" >230</text>
<line x1="604.5" y1="456" x2="606.7" y2="456" stroke="#333" stroke-width="0.8" />
<text x="604.9" y="459.2" font-size="8.6" fill="#333" text-anchor="end" font-weight="normal" font-style="normal" stroke="#333" stroke-width="0.3" >0</text>
<line x1="604.5" y1="430.24" x2="606.7" y2="430.24" stroke="#333" stroke-width="0.8" />
<text x="604.9" y="433.44" font-size="8.6" fill="#333" text-anchor="end" font-weight="normal" font-style="normal" stroke="#333" stroke-width="0.3" >20</text>
<line x1="604.5" y1="404.48" x2="606.7" y2="404.48" stroke="#333" stroke-width="0.8" />
<text x="604.9" y="407.68" font-size="8.6" fill="#333" text-anchor="end" font-weight="normal" font-style="normal" stroke="#333" stroke-width="0.3" >40</text>
<line x1="604.5" y1="378.72" x2="606.7" y2="378.72" stroke="#333" stroke-width="0.8" />
<text x="604.9" y="381.92" font-size="8.6" fill="#333" text-anchor="end" font-weight="normal" font-style="normal" stroke="#333" stroke-width="0.3" >60</text>
<line x1="604.5" y1="352.96" x2="606.7" y2="352.96" stroke="#333" stroke-width="0.8" />
<text x="604.9" y="356.16" font-size="8.6" fill="#333" text-anchor="end" font-weight="normal" font-style="normal" stroke="#333" stroke-width="0.3" >80</text>
<line x1="604.5" y1="327.2" x2="606.7" y2="327.2" stroke="#333" stroke-width="0.8" />
<text x="604.9" y="330.4" font-size="8.6" fill="#333" text-anchor="end" font-weight="normal" font-style="normal" stroke="#333" stroke-width="0.3" >100</text>
<rect x="606.7" y="327.2" width="180.7" height="128.8" fill="none" stroke="#2b2b2b" stroke-width="1.1"/>
<rect x="606.7" y="485" width="180.7" height="128.6" fill="#fff"/>
<g clip-path="url(#cl)">
<polyline points="606.7,485 663.37,485 664.2,527.87 665.02,557.87 666.66,583.59 670.77,595.6 787.4,595.6" fill="none" stroke="#f7941d" stroke-width="1.5" stroke-linejoin="round" stroke-dasharray="1.3,1.3"/>
<polyline points="606.7,485 663.37,485 664.2,527.87 665.43,555.73 667.48,564.3 670.77,568.16 787.4,568.16" fill="none" stroke="#f7941d" stroke-width="1.3" stroke-linejoin="round" />
<polyline points="665.02,485 665.84,497.86 667.48,505.58 757.01,505.58 757.83,513.72 787.4,513.72" fill="none" stroke="#1f9d4c" stroke-width="1.5" stroke-linejoin="round" stroke-dasharray="1.3,1.3"/>
<polyline points="665.02,485 665.84,495.72 667.48,505.15 787.4,505.15" fill="none" stroke="#1f9d4c" stroke-width="1.3" stroke-linejoin="round" />
<polyline points="606.7,485 718.41,485 721.2,488.43 729.9,494.43 734.42,496.15 787.4,496.15" fill="none" stroke="#17a2e3" stroke-width="1.3" stroke-linejoin="round" />
<polyline points="606.7,485 739.6,485 747.48,493.57 747.48,498.72 756.68,498.72 758.49,509.86 787.4,509.86" fill="none" stroke="#17a2e3" stroke-width="1.5" stroke-linejoin="round" stroke-dasharray="1.3,1.3"/>
<polyline points="673.97,485 680.62,488 685.55,492.29 689.66,498.72 693.76,509.86 697.05,520.15 700.17,532.58 701.98,549.3 703.05,564.3 703.62,573.31 787.4,574.59" fill="none" stroke="#232c84" stroke-width="1.3" stroke-linejoin="round" />
<polyline points="692.94,485 695,486.71 700.17,506.43 703.62,515.01 708.06,527.87 713.4,527.87 713.4,536.87 718.57,536.87 719.97,564.3 721.2,573.31 721.69,573.73" fill="none" stroke="#232c84" stroke-width="1.5" stroke-linejoin="round" stroke-dasharray="1.3,1.3"/>
<polyline points="606.7,486.07 787.4,486.07" fill="none" stroke="#e5242b" stroke-width="2" stroke-linejoin="round" />
</g>
<rect x="614.1" y="543.8" width="43.6" height="9.4" rx="4" fill="#4e9e62"/>
<text x="635.9" y="551.45" font-size="8.2" fill="#fff" text-anchor="middle" font-weight="bold" font-style="normal" stroke="#fff" stroke-width="0.12" >Ferric iron</text>
<text x="610" y="611" font-size="11" fill="#222" text-anchor="start" font-weight="normal" font-style="normal" stroke="#222" stroke-width="0.3" >l</text>
<line x1="606.7" y1="613.6" x2="606.7" y2="611.6" stroke="#333" stroke-width="0.8" />
<line x1="623.13" y1="613.6" x2="623.13" y2="611.6" stroke="#333" stroke-width="0.8" />
<line x1="639.55" y1="613.6" x2="639.55" y2="611.6" stroke="#333" stroke-width="0.8" />
<line x1="655.98" y1="613.6" x2="655.98" y2="611.6" stroke="#333" stroke-width="0.8" />
<line x1="672.41" y1="613.6" x2="672.41" y2="611.6" stroke="#333" stroke-width="0.8" />
<line x1="688.84" y1="613.6" x2="688.84" y2="611.6" stroke="#333" stroke-width="0.8" />
<line x1="705.26" y1="613.6" x2="705.26" y2="611.6" stroke="#333" stroke-width="0.8" />
<line x1="721.69" y1="613.6" x2="721.69" y2="611.6" stroke="#333" stroke-width="0.8" />
<line x1="738.12" y1="613.6" x2="738.12" y2="611.6" stroke="#333" stroke-width="0.8" />
<line x1="754.55" y1="613.6" x2="754.55" y2="611.6" stroke="#333" stroke-width="0.8" />
<line x1="770.97" y1="613.6" x2="770.97" y2="611.6" stroke="#333" stroke-width="0.8" />
<line x1="787.4" y1="613.6" x2="787.4" y2="611.6" stroke="#333" stroke-width="0.8" />
<text x="624.13" y="624.2" font-size="8.6" fill="#333" text-anchor="middle" font-weight="normal" font-style="normal" stroke="#333" stroke-width="0.3" >30</text>
<text x="656.88" y="624.2" font-size="8.6" fill="#333" text-anchor="middle" font-weight="normal" font-style="normal" stroke="#333" stroke-width="0.3" >70</text>
<text x="689.24" y="624.2" font-size="8.6" fill="#333" text-anchor="middle" font-weight="normal" font-style="normal" stroke="#333" stroke-width="0.3" >110</text>
<text x="721.99" y="624.2" font-size="8.6" fill="#333" text-anchor="middle" font-weight="normal" font-style="normal" stroke="#333" stroke-width="0.3" >150</text>
<text x="755.45" y="624.2" font-size="8.6" fill="#333" text-anchor="middle" font-weight="normal" font-style="normal" stroke="#333" stroke-width="0.3" >190</text>
<text x="790.8" y="624.2" font-size="8.6" fill="#333" text-anchor="middle" font-weight="normal" font-style="normal" stroke="#333" stroke-width="0.3" >230</text>
<line x1="604.5" y1="613.6" x2="606.7" y2="613.6" stroke="#333" stroke-width="0.8" />
<text x="604.9" y="616.8" font-size="8.6" fill="#333" text-anchor="end" font-weight="normal" font-style="normal" stroke="#333" stroke-width="0.3" >70</text>
<line x1="604.5" y1="570.73" x2="606.7" y2="570.73" stroke="#333" stroke-width="0.8" />
<text x="604.9" y="573.93" font-size="8.6" fill="#333" text-anchor="end" font-weight="normal" font-style="normal" stroke="#333" stroke-width="0.3" >80</text>
<line x1="604.5" y1="527.87" x2="606.7" y2="527.87" stroke="#333" stroke-width="0.8" />
<text x="604.9" y="531.07" font-size="8.6" fill="#333" text-anchor="end" font-weight="normal" font-style="normal" stroke="#333" stroke-width="0.3" >90</text>
<line x1="604.5" y1="485" x2="606.7" y2="485" stroke="#333" stroke-width="0.8" />
<text x="604.9" y="488.2" font-size="8.6" fill="#333" text-anchor="end" font-weight="normal" font-style="normal" stroke="#333" stroke-width="0.3" >100</text>
<rect x="606.7" y="485" width="180.7" height="128.6" fill="none" stroke="#2b2b2b" stroke-width="1.1"/>
<g clip-path="url(#cd)">
<rect x="28.6" y="170.2" width="257.9" height="129.1" fill="#3b4cc0" />
<polygon points="28.6,200.6 154.7,200.6 159.6,204 163.7,209 167.9,214.8 169.5,228 171.2,236.3 177,238.2 174.5,240.4 178.6,243.7 188.5,244.5 181,254.4 174.5,264.3 167,274.2 159.6,282.5 152.2,286.6 144.75,289 136.5,292.4 126.6,298.1 124,299.3 28.6,299.3" fill="#6386e8" />
<line x1="140" y1="289.6" x2="152" y2="289.6" stroke="#3b4cc0" stroke-width="0.8" />
<line x1="146" y1="287.2" x2="156" y2="287.2" stroke="#3b4cc0" stroke-width="0.6" />
<rect x="28.6" y="170.2" width="258" height="2.2" fill="#4766d6" />
<rect x="28.6" y="172" width="84" height="1.7" fill="#f2c3ab" />
<rect x="112" y="171.5" width="175" height="2.2" fill="#5f82e4" />
<rect x="28.6" y="173.6" width="258" height="5.9" fill="#c9392f" />
<rect x="28.6" y="179.5" width="258" height="21.1" fill="#f09274" />
<polygon points="130,179.5 286.5,179.5 286.5,192 230,195 190,198.5 150,200 130,200" fill="url(#gdsal)" />
<rect x="28.6" y="199.6" width="258" height="1" fill="#f7a477" />
<polygon points="113,173.6 123,173.6 122,179.5 118,179.5" fill="#e0221f" />
</g>
<rect x="36" y="210.7" width="104.2" height="44.5" fill="#3b4cc0"/>
<rect x="36" y="218.8" width="92.2" height="13.5" fill="#f2c6ae" />
<rect x="128.2" y="218.8" width="12" height="13.5" fill="#7a9cf0" />
<rect x="36" y="232.3" width="104.2" height="22.4" fill="#cb3a33" />
<rect x="129.7" y="232.3" width="10.5" height="22.4" fill="#b61f2a" />
<rect x="36" y="210.7" width="104.2" height="44.5" fill="none" stroke="#c9d6f6" stroke-width="1.1"/>
<line x1="36" y1="255" x2="36" y2="253.3" stroke="#dde" stroke-width="0.6" />
<line x1="62" y1="255" x2="62" y2="253.3" stroke="#dde" stroke-width="0.6" />
<line x1="88" y1="255" x2="88" y2="253.3" stroke="#dde" stroke-width="0.6" />
<line x1="114" y1="255" x2="114" y2="253.3" stroke="#dde" stroke-width="0.6" />
<line x1="140" y1="255" x2="140" y2="253.3" stroke="#dde" stroke-width="0.6" />
<text x="142.6" y="212.5" font-size="7.8" fill="#fff" text-anchor="start" font-weight="normal" font-style="normal" stroke="#fff" stroke-width="0.3" >0</text>
<text x="142.6" y="227.5" font-size="7.8" fill="#fff" text-anchor="start" font-weight="normal" font-style="normal" stroke="#fff" stroke-width="0.3" >1</text>
<text x="142.6" y="241.7" font-size="7.8" fill="#fff" text-anchor="start" font-weight="normal" font-style="normal" stroke="#fff" stroke-width="0.3" >2</text>
<text x="142.6" y="256.7" font-size="7.8" fill="#fff" text-anchor="start" font-weight="normal" font-style="normal" stroke="#fff" stroke-width="0.3" >3</text>
<text transform="translate(152,232) rotate(-90)" font-size="7.6" fill="#fff" stroke="#fff" stroke-width="0.2" text-anchor="middle">km</text>
<text x="38.2" y="262.7" font-size="7.8" fill="#fff" text-anchor="middle" font-weight="normal" font-style="normal" stroke="#fff" stroke-width="0.3" >10</text>
<text x="94.5" y="262.7" font-size="7.8" fill="#fff" text-anchor="middle" font-weight="normal" font-style="normal" stroke="#fff" stroke-width="0.3" >50 km</text>
<text x="139.4" y="262.7" font-size="7.8" fill="#fff" text-anchor="middle" font-weight="normal" font-style="normal" stroke="#fff" stroke-width="0.3" >90</text>
<text x="41.2" y="217.6" font-size="7.9" fill="#fff" text-anchor="start" font-weight="normal" font-style="normal" stroke="#fff" stroke-width="0.3" >Sediments</text>
<text x="90.7" y="217.6" font-size="7.9" fill="#fff" text-anchor="start" font-weight="normal" font-style="normal" stroke="#fff" stroke-width="0.3" >S=0%</text>
<text x="42.7" y="229.3" font-size="8" fill="#222" text-anchor="start" font-weight="normal" font-style="normal" stroke="#222" stroke-width="0.3" >AOC</text>
<text x="64.5" y="229.7" font-size="6.9" fill="#1a1a1a" text-anchor="start" font-weight="bold" font-style="normal" stroke="#1a1a1a" stroke-width="0.12" >ΔQFM+2.4 to +4.2</text>
<text x="40.5" y="248.5" font-size="8.1" fill="#fde8e0" text-anchor="start" font-weight="normal" font-style="normal" stroke="#fde8e0" stroke-width="0.3" >Basalt</text>
<text x="66.7" y="248.5" font-size="7" fill="#fff" text-anchor="start" font-weight="bold" font-style="normal" stroke="#fff" stroke-width="0.12" >ΔQFM+0.9 to +1.9</text>
<line x1="122.2" y1="227.8" x2="131.2" y2="225.7" stroke="#111" stroke-width="0.7" />
<circle cx="131.2" cy="225.7" r="1.1" fill="#111"/>
<line x1="126.7" y1="246.2" x2="135.7" y2="244.3" stroke="#fff" stroke-width="0.8" />
<circle cx="135.7" cy="244.3" r="1.1" fill="#fff"/>
<line x1="98.1" y1="172.9" x2="102.8" y2="207.4" stroke="#fff" stroke-width="0.9" />
<circle cx="98.1" cy="172.9" r="1.3" fill="#fff"/><circle cx="102.8" cy="207.4" r="1.4" fill="#fff"/>
<text x="58" y="193" font-size="8.2" fill="#fbe3d8" text-anchor="start" font-weight="normal" font-style="normal" stroke="#fbe3d8" stroke-width="0.3" >Gabbro</text>
<text x="103.2" y="191.3" font-size="8.9" fill="#1a1a1a" text-anchor="start" font-weight="bold" font-style="normal" stroke="#1a1a1a" stroke-width="0.12" >S<tspan font-size="5.2" dy="-3.5">6+</tspan><tspan dy="3.5">-rich fluid</tspan></text>
<line x1="123.6" y1="184.2" x2="113.4" y2="172.9" stroke="#111" stroke-width="0.8" />
<line x1="123.6" y1="184.2" x2="120.5" y2="176.8" stroke="#111" stroke-width="0.8" />
<line x1="129.1" y1="192.5" x2="131.8" y2="198" stroke="#111" stroke-width="0.8" />
<line x1="129.1" y1="192.5" x2="159.7" y2="205.3" stroke="#111" stroke-width="0.8" />
<circle cx="113.4" cy="172.9" r="1.1" fill="#111"/><circle cx="120.5" cy="176.8" r="1.1" fill="#1d3a2a"/><circle cx="131.8" cy="198" r="1.1" fill="#111"/><circle cx="159.7" cy="205.3" r="1.1" fill="#111"/>
<text x="174.7" y="190.3" font-size="8" fill="#2a2a2a" text-anchor="start" font-weight="normal" font-style="normal" stroke="#2a2a2a" stroke-width="0.3" >ΔQFM+0.8 to +1.5</text>
<line x1="173.8" y1="192.2" x2="168.1" y2="198.8" stroke="#222" stroke-width="0.7" />
<circle cx="168.1" cy="198.8" r="1" fill="#222"/>
<text x="182.8" y="234.8" font-size="8" fill="#fff" text-anchor="start" font-weight="normal" font-style="normal" stroke="#fff" stroke-width="0.3" >ΔHM+0 to +0.5</text>
<line x1="180.3" y1="231.3" x2="172.8" y2="232.9" stroke="#fff" stroke-width="0.8" />
<circle cx="172.8" cy="232.9" r="1.1" fill="#fff"/>
<text x="192" y="254" font-size="8" fill="#fff" text-anchor="middle" font-weight="normal" font-style="normal" stroke="#fff" stroke-width="0.3" >Hydrated mantle</text>
<text x="196" y="284.5" font-size="8" fill="#fff" text-anchor="middle" font-weight="normal" font-style="normal" stroke="#fff" stroke-width="0.3" >S=0%</text>
<rect x="256" y="192.9" width="8.7" height="84.4" rx="1.2" fill="url(#gcw)" stroke="#fff" stroke-width="1.2"/>
<text x="260.35" y="191.1" font-size="8.6" fill="#f6d7c8" text-anchor="middle" font-weight="normal" font-style="normal" stroke="#f6d7c8" stroke-width="0.3" >0.08</text>
<text x="260.35" y="285.1" font-size="8.6" fill="#fff" text-anchor="middle" font-weight="normal" font-style="normal" stroke="#fff" stroke-width="0.3" >0</text>
<text transform="translate(262.95,233.6) rotate(-90)" font-size="7.4" font-weight="bold" fill="#222" stroke="#222" stroke-width="0.1" text-anchor="middle">S<tspan font-size="4.5" dy="1.2">T</tspan><tspan dy="-1.2"> mol,abs</tspan></text>
<text x="30.5" y="296.5" font-size="11" fill="#fff" text-anchor="start" font-weight="normal" font-style="normal" stroke="#fff" stroke-width="0.3" >d</text>
<rect x="28.6" y="170.2" width="257.9" height="129.1" fill="none" stroke="#2b2b2b" stroke-width="1.1"/>
<g clip-path="url(#ce)">
<rect x="317.7" y="170.2" width="259" height="129.1" fill="#5e4fa2" />
<polygon points="317.7,200.6 461,200.6 461,262 449,262 449,285 414,299.3 317.7,299.3" fill="#5a56a5" />
<rect x="317.7" y="170.2" width="82" height="2.3" fill="#4a6cae" />
<rect x="317.7" y="172.5" width="259" height="8" fill="url(#getop)" />
<rect x="317.7" y="180.5" width="259" height="20.1" fill="url(#gegab)" />
<rect x="400" y="170.2" width="177" height="2.3" fill="#5c50a2" />
<rect x="518" y="180.5" width="58.7" height="20.1" fill="url(#geright)" />
<rect x="530.5" y="172.6" width="1.5" height="28" fill="#3f8fba" />
<polygon points="443,200.6 450,195 455,189 460,184 470,181 490,178.5 518,173.5 518,200.6" fill="#55b3ab" />
<polygon points="490,180.5 518,180.5 518,200.6 490,200.6" fill="#4eaaae" />
<polyline points="440,200.2 446,198.5 448,196 452,193.5 455,189.5 458,186.5 461,183.5 466,181.5 472,179.8 480,178.3 490,177.6 500,176.6 510,175.2 518,173.3" fill="none" stroke="#f3f8b0" stroke-width="2.3" stroke-linejoin="round" />
<polyline points="503,176.2 510,175 518,173.2" fill="none" stroke="#fcc070" stroke-width="1" stroke-linejoin="round" />
<line x1="460.6" y1="245.3" x2="471.9" y2="245.3" stroke="#c8b890" stroke-width="0.8" />
<line x1="457" y1="247.5" x2="472" y2="247.5" stroke="#a8a8b0" stroke-width="0.8" />
<line x1="454" y1="256.3" x2="478.5" y2="256.3" stroke="#b8b088" stroke-width="0.8" />
<line x1="449" y1="263.1" x2="462" y2="263.1" stroke="#c0a090" stroke-width="0.8" />
<line x1="462" y1="263.1" x2="477" y2="263.1" stroke="#c06070" stroke-width="0.8" />
<line x1="449" y1="266.9" x2="461" y2="266.9" stroke="#8aa0b8" stroke-width="0.8" />
<line x1="449" y1="273.8" x2="458" y2="273.8" stroke="#c8a080" stroke-width="0.8" />
<line x1="458" y1="273.8" x2="468" y2="273.8" stroke="#b05068" stroke-width="0.8" />
<line x1="441" y1="280.6" x2="462" y2="280.6" stroke="#d8d090" stroke-width="0.8" />
<line x1="430" y1="282.5" x2="448" y2="282.5" stroke="#b89088" stroke-width="0.8" />
<line x1="415" y1="285.6" x2="448" y2="285.6" stroke="#a08898" stroke-width="0.8" />
<line x1="414" y1="290.6" x2="428" y2="290.6" stroke="#60b0b0" stroke-width="0.8" />
<circle cx="477.5" cy="262.2" r="1" fill="#f0e060"/>
<circle cx="468.5" cy="272.6" r="1" fill="#f8d050"/>
<polyline points="415,291 428,288 441,281" fill="none" stroke="#50b8b8" stroke-width="0.7" stroke-linejoin="round" />
</g>
<rect x="329.3" y="210.7" width="103.1" height="44" fill="#5e4fa2"/>
<rect x="329.3" y="218.8" width="92.7" height="13.9" fill="#3a8cbd" />
<rect x="422" y="218.8" width="10.4" height="13.9" fill="#5e4fa2" />
<rect x="329.3" y="232.7" width="103.1" height="22" fill="#5dbaa8" />
<rect x="329.3" y="210.7" width="103.1" height="44" fill="none" stroke="#dcdcf0" stroke-width="1.1"/>
<line x1="329.3" y1="254.7" x2="329.3" y2="253" stroke="#eee" stroke-width="0.6" />
<line x1="355.3" y1="254.7" x2="355.3" y2="253" stroke="#eee" stroke-width="0.6" />
<line x1="381.3" y1="254.7" x2="381.3" y2="253" stroke="#eee" stroke-width="0.6" />
<line x1="407.3" y1="254.7" x2="407.3" y2="253" stroke="#eee" stroke-width="0.6" />
<line x1="433.3" y1="254.7" x2="433.3" y2="253" stroke="#eee" stroke-width="0.6" />
<text x="434.8" y="211.7" font-size="7.8" fill="#fff" text-anchor="start" font-weight="normal" font-style="normal" stroke="#fff" stroke-width="0.3" >0</text>
<text x="434.8" y="227.5" font-size="7.8" fill="#fff" text-anchor="start" font-weight="normal" font-style="normal" stroke="#fff" stroke-width="0.3" >1</text>
<text x="434.8" y="241.7" font-size="7.8" fill="#fff" text-anchor="start" font-weight="normal" font-style="normal" stroke="#fff" stroke-width="0.3" >2</text>
<text x="434.8" y="255.2" font-size="7.8" fill="#fff" text-anchor="start" font-weight="normal" font-style="normal" stroke="#fff" stroke-width="0.3" >3</text>
<text transform="translate(444.2,232) rotate(-90)" font-size="7.6" fill="#fff" stroke="#fff" stroke-width="0.2" text-anchor="middle">km</text>
<text x="330.5" y="263.2" font-size="7.8" fill="#fff" text-anchor="middle" font-weight="normal" font-style="normal" stroke="#fff" stroke-width="0.3" >10</text>
<text x="387.5" y="263.2" font-size="7.8" fill="#fff" text-anchor="middle" font-weight="normal" font-style="normal" stroke="#fff" stroke-width="0.3" >50 km</text>
<text x="432.4" y="263.2" font-size="7.8" fill="#fff" text-anchor="middle" font-weight="normal" font-style="normal" stroke="#fff" stroke-width="0.3" >90</text>
<text x="342.5" y="217" font-size="8" fill="#fff" text-anchor="start" font-weight="normal" font-style="normal" stroke="#fff" stroke-width="0.3" >Sediments</text>
<text x="391.2" y="217" font-size="8" fill="#fff" text-anchor="start" font-weight="normal" font-style="normal" stroke="#fff" stroke-width="0.3" >S=0%</text>
<text x="348.5" y="228.5" font-size="8" fill="#fff" text-anchor="start" font-weight="normal" font-style="normal" stroke="#fff" stroke-width="0.3" >AOC</text>
<text x="423.1" y="229" font-size="7.6" fill="#fff" text-anchor="start" font-weight="normal" font-style="normal" stroke="#fff" stroke-width="0.3" >0%</text>
<text x="346.2" y="246.7" font-size="8.1" fill="#fff" text-anchor="start" font-weight="normal" font-style="normal" stroke="#fff" stroke-width="0.3" >Basalt</text>
<line x1="385" y1="172.9" x2="389.4" y2="207.5" stroke="#fff" stroke-width="0.9" />
<circle cx="385" cy="172.9" r="1.2" fill="#fff"/><circle cx="389.4" cy="207.5" r="1.3" fill="#fff"/>
<text x="345.5" y="194" font-size="8.2" fill="#fff" text-anchor="start" font-weight="normal" font-style="normal" stroke="#fff" stroke-width="0.3" >Gabbro</text>
<text x="480" y="254" font-size="8" fill="#fff" text-anchor="middle" font-weight="normal" font-style="normal" stroke="#fff" stroke-width="0.3" >Hydrated mantle</text>
<text x="509" y="288.5" font-size="8" fill="#fff" text-anchor="middle" font-weight="normal" font-style="normal" stroke="#fff" stroke-width="0.3" >S=0%</text>
<rect x="548.5" y="195.7" width="9.5" height="84" rx="1.2" fill="url(#gsp)" stroke="#fff" stroke-width="1.2"/>
<text x="553.25" y="193.9" font-size="8.6" fill="#fff" text-anchor="middle" font-weight="normal" font-style="normal" stroke="#fff" stroke-width="0.3" >0.4</text>
<text x="553.25" y="287.5" font-size="8.6" fill="#fff" text-anchor="middle" font-weight="normal" font-style="normal" stroke="#fff" stroke-width="0.3" >0</text>
<text transform="translate(555.85,235.3) rotate(-90)" font-size="7.4" font-weight="bold" fill="#222" stroke="#222" stroke-width="0.1" text-anchor="middle">S<tspan font-size="4.5" dy="1.2">T</tspan><tspan dy="-1.2"> mol,abs</tspan></text>
<text x="319.6" y="296.5" font-size="11" fill="#fff" text-anchor="start" font-weight="normal" font-style="normal" stroke="#fff" stroke-width="0.3" >e</text>
<rect x="317.7" y="170.2" width="259" height="129.1" fill="none" stroke="#2b2b2b" stroke-width="1.1"/>
<g clip-path="url(#cg)">
<rect x="28.6" y="327.2" width="257.9" height="128.8" fill="#3c4ec1" />
<rect x="28.6" y="331" width="258" height="27" fill="#4a63d2" />
<path d="M114.6,331 L286.5,331 L286.5,348 C250,346 200,343 175,341 C150,339.5 128,338.5 121.8,337 Z" fill="#3d50c4" stroke="none" stroke-width="1" />
<rect x="28.6" y="327.2" width="258" height="1.9" fill="#cc2e2e" />
<rect x="28.6" y="329.1" width="258" height="2" fill="#f2845f" />
</g>
<rect x="35.7" y="368.7" width="103.7" height="45" fill="#4a63d2"/>
<rect x="35.7" y="368.7" width="103.7" height="8.3" fill="#c9252d" />
<rect x="35.7" y="377" width="103.7" height="14.2" fill="#f08b6c" />
<rect x="128" y="391.2" width="11.4" height="22.5" fill="#3f55c8" />
<rect x="35.7" y="368.7" width="103.7" height="45" fill="none" stroke="#c9d6f6" stroke-width="1.1"/>
<line x1="35.7" y1="391.4" x2="139.4" y2="391.4" stroke="#c9d6f6" stroke-width="0.9" />
<line x1="35.7" y1="413.7" x2="35.7" y2="412" stroke="#dde" stroke-width="0.6" />
<line x1="61.7" y1="413.7" x2="61.7" y2="412" stroke="#dde" stroke-width="0.6" />
<line x1="87.7" y1="413.7" x2="87.7" y2="412" stroke="#dde" stroke-width="0.6" />
<line x1="113.7" y1="413.7" x2="113.7" y2="412" stroke="#dde" stroke-width="0.6" />
<line x1="139.7" y1="413.7" x2="139.7" y2="412" stroke="#dde" stroke-width="0.6" />
<text x="141.8" y="370.2" font-size="7.8" fill="#fff" text-anchor="start" font-weight="normal" font-style="normal" stroke="#fff" stroke-width="0.3" >0</text>
<text x="141.8" y="386" font-size="7.8" fill="#fff" text-anchor="start" font-weight="normal" font-style="normal" stroke="#fff" stroke-width="0.3" >1</text>
<text x="141.8" y="400.2" font-size="7.8" fill="#fff" text-anchor="start" font-weight="normal" font-style="normal" stroke="#fff" stroke-width="0.3" >2</text>
<text x="141.8" y="415.2" font-size="7.8" fill="#fff" text-anchor="start" font-weight="normal" font-style="normal" stroke="#fff" stroke-width="0.3" >3</text>
<text transform="translate(151.2,392) rotate(-90)" font-size="7.6" fill="#fff" stroke="#fff" stroke-width="0.2" text-anchor="middle">km</text>
<text x="36" y="422.7" font-size="7.8" fill="#fff" text-anchor="middle" font-weight="normal" font-style="normal" stroke="#fff" stroke-width="0.3" >10</text>
<text x="93.7" y="422.7" font-size="7.8" fill="#fff" text-anchor="middle" font-weight="normal" font-style="normal" stroke="#fff" stroke-width="0.3" >50 km</text>
<text x="138" y="422.7" font-size="7.8" fill="#fff" text-anchor="middle" font-weight="normal" font-style="normal" stroke="#fff" stroke-width="0.3" >90</text>
<text x="44.2" y="375.5" font-size="7.9" fill="#fff" text-anchor="start" font-weight="normal" font-style="normal" stroke="#fff" stroke-width="0.3" >Sediments</text>
<text x="45.7" y="387" font-size="8" fill="#222" text-anchor="start" font-weight="normal" font-style="normal" stroke="#222" stroke-width="0.3" >AOC</text>
<text x="66.7" y="387.5" font-size="8.7" fill="#1a1a1a" text-anchor="start" font-weight="bold" font-style="normal" stroke="#1a1a1a" stroke-width="0.12" >C<tspan font-size="5.2" dy="-3.5">4+</tspan><tspan dy="3.5">-rich fluid</tspan></text>
<text x="45.7" y="404.7" font-size="8" fill="#e6ecfc" text-anchor="start" font-weight="normal" font-style="normal" stroke="#e6ecfc" stroke-width="0.3" >Basalt</text>
<text x="129.7" y="408.5" font-size="7.6" fill="#fff" text-anchor="start" font-weight="normal" font-style="normal" stroke="#fff" stroke-width="0.3" >0%</text>
<line x1="121.5" y1="384.5" x2="128.2" y2="375.8" stroke="#111" stroke-width="0.7" />
<circle cx="128.2" cy="375.8" r="1.1" fill="#111"/>
<line x1="121.5" y1="384.5" x2="129.7" y2="385.2" stroke="#111" stroke-width="0.7" />
<circle cx="129.7" cy="385.2" r="1.1" fill="#111"/>
<line x1="121.5" y1="384.5" x2="129" y2="396.5" stroke="#111" stroke-width="0.7" />
<circle cx="129" cy="396.5" r="1.1" fill="#111"/>
<line x1="93" y1="329.7" x2="97.7" y2="363.5" stroke="#fff" stroke-width="0.9" />
<circle cx="93" cy="329.9" r="1.2" fill="#fff"/><circle cx="97.7" cy="363.5" r="1.3" fill="#fff"/>
<text x="58" y="351" font-size="8.2" fill="#fff" text-anchor="start" font-weight="normal" font-style="normal" stroke="#fff" stroke-width="0.3" >Gabbro</text>
<text x="180.7" y="361" font-size="9.2" fill="#fff" text-anchor="start" font-weight="bold" font-style="normal" stroke="#fff" stroke-width="0.12" >C<tspan font-size="5.5" dy="-3.5">4+</tspan><tspan dy="3.5">-rich fluids</tspan></text>
<line x1="172" y1="349.3" x2="179.3" y2="352.7" stroke="#fff" stroke-width="0.9" />
<line x1="170.6" y1="362.8" x2="177.8" y2="360.2" stroke="#fff" stroke-width="0.9" />
<circle cx="172" cy="349.3" r="1.1" fill="#fff"/><circle cx="170.6" cy="362.8" r="1.1" fill="#fff"/>
<text x="192.9" y="405" font-size="8" fill="#fff" text-anchor="middle" font-weight="normal" font-style="normal" stroke="#fff" stroke-width="0.3" >Hydrated mantle</text>
<rect x="256" y="348.5" width="8.5" height="84.3" rx="1.2" fill="url(#gcw)" stroke="#fff" stroke-width="1.2"/>
<text x="260.25" y="346.7" font-size="8.6" fill="#fff" text-anchor="middle" font-weight="normal" font-style="normal" stroke="#fff" stroke-width="0.3" >1.88</text>
<text x="260.25" y="440.6" font-size="8.6" fill="#fff" text-anchor="middle" font-weight="normal" font-style="normal" stroke="#fff" stroke-width="0.3" >0</text>
<text transform="translate(262.85,389.5) rotate(-90)" font-size="7.4" font-weight="bold" fill="#222" stroke="#222" stroke-width="0.1" text-anchor="middle">C mol,abs</text>
<text x="30.5" y="453.5" font-size="11" fill="#fff" text-anchor="start" font-weight="normal" font-style="normal" stroke="#fff" stroke-width="0.3" >g</text>
<rect x="28.6" y="327.2" width="257.9" height="128.8" fill="none" stroke="#2b2b2b" stroke-width="1.1"/>
<g clip-path="url(#ch)">
<rect x="317.7" y="327.2" width="259" height="128.8" fill="#5e4fa2" />
<path d="M317.7,331 L468.5,331 L468.5,351 Q468.5,357.2 462,357.2 L317.7,357.2 Z" fill="#4c5fab" stroke="none" stroke-width="1" />
<path d="M404.7,331 L459,331 L459,344.5 L410,344.5 Q404.7,344.5 404.7,339 Z" fill="#5a52a3" stroke="none" stroke-width="1" />
<rect x="459" y="327.2" width="9.5" height="30" fill="#3a86bc" />
<rect x="459" y="327.2" width="2" height="30" fill="#4aa0b8" />
<polygon points="317.7,327.2 416,327.2 416,331 317.7,331" fill="url(#ghtop)" />
</g>
<rect x="327" y="369.6" width="104.3" height="44" fill="#5e4fa2"/>
<polygon points="327,369.6 387,369.6 386.7,377.5 382.3,392.3 327,392.3" fill="#e8f49c" />
<polygon points="386.5,369.6 407.5,369.6 406.8,370.3 400,373.5 393,376 386.7,378.2" fill="#c2e59f" />
<polyline points="386.7,378.2 393,376 400,373.5 406.8,370.3" fill="none" stroke="#3d95b8" stroke-width="0.9" stroke-linejoin="round" />
<rect x="327" y="392.3" width="55.3" height="21.3" fill="#4c61ad" />
<rect x="416.4" y="369.6" width="6.4" height="44" fill="#3a86bc" />
<line x1="352" y1="372" x2="352" y2="375" stroke="#f08a60" stroke-width="0.5" opacity="0.6"/>
<line x1="356" y1="380" x2="356" y2="383" stroke="#f08a60" stroke-width="0.5" opacity="0.6"/>
<line x1="362" y1="375" x2="362" y2="378" stroke="#f08a60" stroke-width="0.5" opacity="0.6"/>
<line x1="366" y1="384" x2="366" y2="387" stroke="#f08a60" stroke-width="0.5" opacity="0.6"/>
<line x1="370" y1="373" x2="370" y2="376" stroke="#f08a60" stroke-width="0.5" opacity="0.6"/>
<line x1="373" y1="381" x2="373" y2="384" stroke="#f08a60" stroke-width="0.5" opacity="0.6"/>
<line x1="360" y1="388" x2="360" y2="391" stroke="#f08a60" stroke-width="0.5" opacity="0.6"/>
<line x1="368" y1="389" x2="368" y2="392" stroke="#f08a60" stroke-width="0.5" opacity="0.6"/>
<rect x="327" y="369.6" width="104.3" height="44" fill="none" stroke="#e6e6f6" stroke-width="1.1"/>
<line x1="327" y1="413.6" x2="327" y2="411.9" stroke="#eee" stroke-width="0.6" />
<line x1="344.4" y1="413.6" x2="344.4" y2="411.9" stroke="#eee" stroke-width="0.6" />
<line x1="361.8" y1="413.6" x2="361.8" y2="411.9" stroke="#eee" stroke-width="0.6" />
<line x1="379.2" y1="413.6" x2="379.2" y2="411.9" stroke="#eee" stroke-width="0.6" />
<line x1="396.6" y1="413.6" x2="396.6" y2="411.9" stroke="#eee" stroke-width="0.6" />
<line x1="414" y1="413.6" x2="414" y2="411.9" stroke="#eee" stroke-width="0.6" />
<line x1="431.4" y1="413.6" x2="431.4" y2="411.9" stroke="#eee" stroke-width="0.6" />
<text x="433.7" y="371.5" font-size="7.8" fill="#fff" text-anchor="start" font-weight="normal" font-style="normal" stroke="#fff" stroke-width="0.3" >0</text>
<text x="433.7" y="386.3" font-size="7.8" fill="#fff" text-anchor="start" font-weight="normal" font-style="normal" stroke="#fff" stroke-width="0.3" >1</text>
<text x="433.7" y="401" font-size="7.8" fill="#fff" text-anchor="start" font-weight="normal" font-style="normal" stroke="#fff" stroke-width="0.3" >2</text>
<text x="433.7" y="416.5" font-size="7.8" fill="#fff" text-anchor="start" font-weight="normal" font-style="normal" stroke="#fff" stroke-width="0.3" >3</text>
<text transform="translate(443.1,391.3) rotate(-90)" font-size="7.6" fill="#fff" stroke="#fff" stroke-width="0.2" text-anchor="middle">km</text>
<text x="328" y="423.2" font-size="7.8" fill="#fff" text-anchor="middle" font-weight="normal" font-style="normal" stroke="#fff" stroke-width="0.3" >10</text>
<text x="356.8" y="423.2" font-size="7.8" fill="#fff" text-anchor="middle" font-weight="normal" font-style="normal" stroke="#fff" stroke-width="0.3" >50</text>
<text x="386.6" y="423.2" font-size="7.8" fill="#fff" text-anchor="middle" font-weight="normal" font-style="normal" stroke="#fff" stroke-width="0.3" >90</text>
<text x="401.9" y="423.2" font-size="7.8" fill="#fff" text-anchor="middle" font-weight="normal" font-style="normal" stroke="#fff" stroke-width="0.3" >km</text>
<text x="416.4" y="423.2" font-size="7.8" fill="#fff" text-anchor="middle" font-weight="normal" font-style="normal" stroke="#fff" stroke-width="0.3" >130</text>
<text x="339.8" y="376.4" font-size="8" fill="#3a3a2a" text-anchor="start" font-weight="normal" font-style="normal" stroke="#3a3a2a" stroke-width="0.3" >Sediments</text>
<text x="345.7" y="387.7" font-size="8" fill="#3a3a2a" text-anchor="start" font-weight="normal" font-style="normal" stroke="#3a3a2a" stroke-width="0.3" >AOC</text>
<text x="343" y="406.2" font-size="8" fill="#fff" text-anchor="start" font-weight="normal" font-style="normal" stroke="#fff" stroke-width="0.3" >Basalt</text>
<text x="389.1" y="396.6" font-size="8" fill="#fff" text-anchor="start" font-weight="normal" font-style="normal" stroke="#fff" stroke-width="0.3" >C=0%</text>
<line x1="366.4" y1="331.7" x2="371.7" y2="366.8" stroke="#fff" stroke-width="0.9" />
<circle cx="366.4" cy="331.7" r="1.2" fill="#fff"/><circle cx="371.7" cy="366.8" r="1.3" fill="#fff"/>
<text x="335.5" y="350.2" font-size="8.2" fill="#fff" text-anchor="start" font-weight="normal" font-style="normal" stroke="#fff" stroke-width="0.3" >Gabbro</text>
<text x="483" y="350" font-size="8" fill="#fff" text-anchor="start" font-weight="normal" font-style="normal" stroke="#fff" stroke-width="0.3" >C=0%</text>
<text x="480" y="400" font-size="8" fill="#fff" text-anchor="middle" font-weight="normal" font-style="normal" stroke="#fff" stroke-width="0.3" >Hydrated mantle</text>
<rect x="549.2" y="342.8" width="9.5" height="84.4" rx="1.2" fill="url(#gsp)" stroke="#fff" stroke-width="1.2"/>
<text x="553.95" y="341" font-size="8.6" fill="#fff" text-anchor="middle" font-weight="normal" font-style="normal" stroke="#fff" stroke-width="0.3" >3.8</text>
<text x="553.95" y="435" font-size="8.6" fill="#fff" text-anchor="middle" font-weight="normal" font-style="normal" stroke="#fff" stroke-width="0.3" >0</text>
<text transform="translate(556.55,382.4) rotate(-90)" font-size="7.4" font-weight="bold" fill="#222" stroke="#222" stroke-width="0.1" text-anchor="middle">C mol,abs</text>
<text x="319.6" y="453.5" font-size="11" fill="#fff" text-anchor="start" font-weight="normal" font-style="normal" stroke="#fff" stroke-width="0.3" >h</text>
<rect x="317.7" y="327.2" width="259" height="128.8" fill="none" stroke="#2b2b2b" stroke-width="1.1"/>
<g clip-path="url(#cj)">
<rect x="28.6" y="485" width="257.9" height="128.6" fill="#c7d6ef" />
<rect x="28.6" y="485" width="258" height="1.6" fill="#3b4cc0" />
<rect x="28.6" y="486.5" width="258" height="1.8" fill="#b40426" />
<rect x="28.6" y="488.6" width="258" height="26.7" fill="#e9775b" />
</g>
<line x1="28.6" y1="489" x2="286.5" y2="489" stroke="#6a2a20" stroke-width="1" stroke-dasharray="3.2,2.1"/>
<line x1="28.6" y1="494.6" x2="286.5" y2="494.6" stroke="#6a2a20" stroke-width="1" stroke-dasharray="3.2,2.1"/>
<line x1="28.6" y1="515.3" x2="286.5" y2="515.3" stroke="#6a2a20" stroke-width="1" stroke-dasharray="3.2,2.1"/>
<text x="132.6" y="494.6" font-size="8.3" fill="#3a2a25" text-anchor="start" font-weight="normal" font-style="normal" stroke="#3a2a25" stroke-width="0.3" >Basalt</text>
<text x="143.6" y="508.3" font-size="7.9" fill="#3a2a25" text-anchor="start" font-weight="normal" font-style="normal" stroke="#3a2a25" stroke-width="0.3" >Gabbro</text>
<text x="185.7" y="506.5" font-size="7.9" fill="#fff" text-anchor="start" font-weight="normal" font-style="normal" stroke="#fff" stroke-width="0.3" >AOC</text>
<text x="206.2" y="503.9" font-size="8" fill="#fde6dc" text-anchor="start" font-weight="normal" font-style="normal" stroke="#fde6dc" stroke-width="0.3" >Sediments</text>
<line x1="194.4" y1="500.4" x2="191.8" y2="487.3" stroke="#fde6dc" stroke-width="0.6" />
<line x1="215.4" y1="498.6" x2="212.8" y2="487.3" stroke="#fde6dc" stroke-width="0.6" />
<text x="162" y="565.5" font-size="8" fill="#333" text-anchor="middle" font-weight="normal" font-style="normal" stroke="#333" stroke-width="0.3" >Hydrated mantle</text>
<rect x="256" y="508.2" width="8.5" height="84.5" rx="1.2" fill="url(#gcw)" stroke="#888" stroke-width="0.6"/>
<text x="260.25" y="506.4" font-size="8.6" fill="#222" text-anchor="middle" font-weight="normal" font-style="normal" stroke="#222" stroke-width="0.3" >1.65</text>
<text x="260.25" y="600.5" font-size="8.6" fill="#222" text-anchor="middle" font-weight="normal" font-style="normal" stroke="#222" stroke-width="0.3" >0.7</text>
<text transform="translate(262.85,550.2) rotate(-90)" font-size="7.4" font-weight="bold" fill="#222" stroke="#222" stroke-width="0.1" text-anchor="middle">Fe<tspan font-size="4.5" dy="1.2">tot</tspan><tspan dy="-1.2"> mol/kg</tspan></text>
<text x="31.5" y="611" font-size="11" fill="#222" text-anchor="start" font-weight="normal" font-style="normal" stroke="#222" stroke-width="0.3" >j</text>
<rect x="28.6" y="485" width="257.9" height="128.6" fill="none" stroke="#2b2b2b" stroke-width="1.1"/>
<g clip-path="url(#ck)">
<rect x="317.7" y="485" width="259" height="128.6" fill="#eef6a6" />
<rect x="317.7" y="485" width="259" height="1.8" fill="#5e4fa2" />
<rect x="317.7" y="486.8" width="259" height="1.7" fill="#a8154a" />
<rect x="317.7" y="488.5" width="259" height="26.8" fill="#e8604a" />
</g>
<line x1="317.7" y1="489" x2="576.7" y2="489" stroke="#6a2a20" stroke-width="1" stroke-dasharray="3.2,2.1"/>
<line x1="317.7" y1="494.6" x2="576.7" y2="494.6" stroke="#6a2a20" stroke-width="1" stroke-dasharray="3.2,2.1"/>
<line x1="317.7" y1="515.3" x2="576.7" y2="515.3" stroke="#6a2a20" stroke-width="1" stroke-dasharray="3.2,2.1"/>
<text x="433.3" y="494.6" font-size="8.2" fill="#3a2a25" text-anchor="start" font-weight="normal" font-style="normal" stroke="#3a2a25" stroke-width="0.3" >Basalt</text>
<text x="433" y="508" font-size="8" fill="#3a2a25" text-anchor="start" font-weight="normal" font-style="normal" stroke="#3a2a25" stroke-width="0.3" >Gabbro</text>
<text x="480.2" y="506.7" font-size="7.9" fill="#fff" text-anchor="start" font-weight="normal" font-style="normal" stroke="#fff" stroke-width="0.3" >AOC</text>
<text x="503.8" y="504.5" font-size="8" fill="#fde6dc" text-anchor="start" font-weight="normal" font-style="normal" stroke="#fde6dc" stroke-width="0.3" >Sediments</text>
<line x1="488.5" y1="500" x2="486.7" y2="488" stroke="#fde6dc" stroke-width="0.6" />
<line x1="514.3" y1="498.5" x2="512.2" y2="488" stroke="#fde6dc" stroke-width="0.6" />
<text x="447" y="565.5" font-size="8" fill="#333" text-anchor="middle" font-weight="normal" font-style="normal" stroke="#333" stroke-width="0.3" >Hydrated mantle</text>
<rect x="549.2" y="507.8" width="8.5" height="84.9" rx="1.2" fill="url(#gsp)" stroke="#888" stroke-width="0.6"/>
<text x="553.45" y="506" font-size="8.6" fill="#222" text-anchor="middle" font-weight="normal" font-style="normal" stroke="#222" stroke-width="0.3" >1.65</text>
<text x="553.45" y="600.5" font-size="8.6" fill="#222" text-anchor="middle" font-weight="normal" font-style="normal" stroke="#222" stroke-width="0.3" >0.7</text>
<text transform="translate(556.05,546.4) rotate(-90)" font-size="7.4" font-weight="bold" fill="#222" stroke="#222" stroke-width="0.1" text-anchor="middle">Fe<tspan font-size="4.5" dy="1.2">tot</tspan><tspan dy="-1.2"> mol/kg</tspan></text>
<text x="319.6" y="611" font-size="11" fill="#222" text-anchor="start" font-weight="normal" font-style="normal" stroke="#222" stroke-width="0.3" >k</text>
<rect x="317.7" y="485" width="259" height="128.6" fill="none" stroke="#2b2b2b" stroke-width="1.1"/>
<line x1="28.6" y1="140.3" x2="28.6" y2="138.3" stroke="#333" stroke-width="0.8" />
<text x="29.5" y="150.9" font-size="8.6" fill="#333" text-anchor="middle" font-weight="normal" font-style="normal" stroke="#333" stroke-width="0.3" >10</text>
<line x1="52.05" y1="140.3" x2="52.05" y2="138.3" stroke="#333" stroke-width="0.8" />
<text x="52.35" y="150.9" font-size="8.6" fill="#333" text-anchor="middle" font-weight="normal" font-style="normal" stroke="#333" stroke-width="0.3" >30</text>
<line x1="75.49" y1="140.3" x2="75.49" y2="138.3" stroke="#333" stroke-width="0.8" />
<text x="76.89" y="150.9" font-size="8.6" fill="#333" text-anchor="middle" font-weight="normal" font-style="normal" stroke="#333" stroke-width="0.3" >50</text>
<line x1="98.94" y1="140.3" x2="98.94" y2="138.3" stroke="#333" stroke-width="0.8" />
<text x="99.84" y="150.9" font-size="8.6" fill="#333" text-anchor="middle" font-weight="normal" font-style="normal" stroke="#333" stroke-width="0.3" >70</text>
<line x1="122.38" y1="140.3" x2="122.38" y2="138.3" stroke="#333" stroke-width="0.8" />
<text x="124.23" y="150.9" font-size="8.6" fill="#333" text-anchor="middle" font-weight="normal" font-style="normal" stroke="#333" stroke-width="0.3" >90</text>
<line x1="145.83" y1="140.3" x2="145.83" y2="138.3" stroke="#333" stroke-width="0.8" />
<text x="148.33" y="150.9" font-size="8.6" fill="#333" text-anchor="middle" font-weight="normal" font-style="normal" stroke="#333" stroke-width="0.3" >110</text>
<line x1="169.27" y1="140.3" x2="169.27" y2="138.3" stroke="#333" stroke-width="0.8" />
<text x="173.47" y="150.9" font-size="8.6" fill="#333" text-anchor="middle" font-weight="normal" font-style="normal" stroke="#333" stroke-width="0.3" >130</text>
<line x1="192.72" y1="140.3" x2="192.72" y2="138.3" stroke="#333" stroke-width="0.8" />
<text x="195.52" y="150.9" font-size="8.6" fill="#333" text-anchor="middle" font-weight="normal" font-style="normal" stroke="#333" stroke-width="0.3" >150</text>
<line x1="216.16" y1="140.3" x2="216.16" y2="138.3" stroke="#333" stroke-width="0.8" />
<text x="219.86" y="150.9" font-size="8.6" fill="#333" text-anchor="middle" font-weight="normal" font-style="normal" stroke="#333" stroke-width="0.3" >170</text>
<line x1="239.61" y1="140.3" x2="239.61" y2="138.3" stroke="#333" stroke-width="0.8" />
<text x="241.91" y="150.9" font-size="8.6" fill="#333" text-anchor="middle" font-weight="normal" font-style="normal" stroke="#333" stroke-width="0.3" >190</text>
<line x1="263.05" y1="140.3" x2="263.05" y2="138.3" stroke="#333" stroke-width="0.8" />
<text x="266.15" y="150.9" font-size="8.6" fill="#333" text-anchor="middle" font-weight="normal" font-style="normal" stroke="#333" stroke-width="0.3" >210</text>
<line x1="286.5" y1="140.3" x2="286.5" y2="138.3" stroke="#333" stroke-width="0.8" />
<text x="289.1" y="150.9" font-size="8.6" fill="#333" text-anchor="middle" font-weight="normal" font-style="normal" stroke="#333" stroke-width="0.3" >230</text>
<line x1="26.1" y1="11.5" x2="28.6" y2="11.5" stroke="#333" stroke-width="0.8" />
<text x="25.1" y="13.9" font-size="8.6" fill="#333" text-anchor="end" font-weight="normal" font-style="normal" stroke="#333" stroke-width="0.3" >0</text>
<line x1="26.1" y1="34.5" x2="28.6" y2="34.5" stroke="#333" stroke-width="0.8" />
<text x="25.1" y="36.9" font-size="8.6" fill="#333" text-anchor="end" font-weight="normal" font-style="normal" stroke="#333" stroke-width="0.3" >10</text>
<line x1="26.1" y1="57.5" x2="28.6" y2="57.5" stroke="#333" stroke-width="0.8" />
<text x="25.1" y="59.9" font-size="8.6" fill="#333" text-anchor="end" font-weight="normal" font-style="normal" stroke="#333" stroke-width="0.3" >20</text>
<line x1="26.1" y1="80.5" x2="28.6" y2="80.5" stroke="#333" stroke-width="0.8" />
<text x="25.1" y="82.9" font-size="8.6" fill="#333" text-anchor="end" font-weight="normal" font-style="normal" stroke="#333" stroke-width="0.3" >30</text>
<line x1="26.1" y1="103.5" x2="28.6" y2="103.5" stroke="#333" stroke-width="0.8" />
<text x="25.1" y="105.9" font-size="8.6" fill="#333" text-anchor="end" font-weight="normal" font-style="normal" stroke="#333" stroke-width="0.3" >40</text>
<line x1="26.1" y1="126.5" x2="28.6" y2="126.5" stroke="#333" stroke-width="0.8" />
<text x="25.1" y="128.9" font-size="8.6" fill="#333" text-anchor="end" font-weight="normal" font-style="normal" stroke="#333" stroke-width="0.3" >50</text>
<text x="29.1" y="10.1" font-size="8.8" fill="#333" text-anchor="start" font-weight="normal" font-style="italic" stroke="#333" stroke-width="0.3" >CFE model</text>
<text x="286" y="10.1" font-size="8.8" fill="#333" text-anchor="end" font-weight="normal" font-style="italic" stroke="#333" stroke-width="0.3" >Dehydration profile</text>
<line x1="317.7" y1="140.3" x2="317.7" y2="138.3" stroke="#333" stroke-width="0.8" />
<text x="318.6" y="150.9" font-size="8.6" fill="#333" text-anchor="middle" font-weight="normal" font-style="normal" stroke="#333" stroke-width="0.3" >10</text>
<line x1="341.25" y1="140.3" x2="341.25" y2="138.3" stroke="#333" stroke-width="0.8" />
<text x="341.55" y="150.9" font-size="8.6" fill="#333" text-anchor="middle" font-weight="normal" font-style="normal" stroke="#333" stroke-width="0.3" >30</text>
<line x1="364.79" y1="140.3" x2="364.79" y2="138.3" stroke="#333" stroke-width="0.8" />
<text x="366.19" y="150.9" font-size="8.6" fill="#333" text-anchor="middle" font-weight="normal" font-style="normal" stroke="#333" stroke-width="0.3" >50</text>
<line x1="388.34" y1="140.3" x2="388.34" y2="138.3" stroke="#333" stroke-width="0.8" />
<text x="389.24" y="150.9" font-size="8.6" fill="#333" text-anchor="middle" font-weight="normal" font-style="normal" stroke="#333" stroke-width="0.3" >70</text>
<line x1="411.88" y1="140.3" x2="411.88" y2="138.3" stroke="#333" stroke-width="0.8" />
<text x="413.73" y="150.9" font-size="8.6" fill="#333" text-anchor="middle" font-weight="normal" font-style="normal" stroke="#333" stroke-width="0.3" >90</text>
<line x1="435.43" y1="140.3" x2="435.43" y2="138.3" stroke="#333" stroke-width="0.8" />
<text x="437.93" y="150.9" font-size="8.6" fill="#333" text-anchor="middle" font-weight="normal" font-style="normal" stroke="#333" stroke-width="0.3" >110</text>
<line x1="458.97" y1="140.3" x2="458.97" y2="138.3" stroke="#333" stroke-width="0.8" />
<text x="463.17" y="150.9" font-size="8.6" fill="#333" text-anchor="middle" font-weight="normal" font-style="normal" stroke="#333" stroke-width="0.3" >130</text>
<line x1="482.52" y1="140.3" x2="482.52" y2="138.3" stroke="#333" stroke-width="0.8" />
<text x="485.32" y="150.9" font-size="8.6" fill="#333" text-anchor="middle" font-weight="normal" font-style="normal" stroke="#333" stroke-width="0.3" >150</text>
<line x1="506.06" y1="140.3" x2="506.06" y2="138.3" stroke="#333" stroke-width="0.8" />
<text x="509.76" y="150.9" font-size="8.6" fill="#333" text-anchor="middle" font-weight="normal" font-style="normal" stroke="#333" stroke-width="0.3" >170</text>
<line x1="529.61" y1="140.3" x2="529.61" y2="138.3" stroke="#333" stroke-width="0.8" />
<text x="531.91" y="150.9" font-size="8.6" fill="#333" text-anchor="middle" font-weight="normal" font-style="normal" stroke="#333" stroke-width="0.3" >190</text>
<line x1="553.15" y1="140.3" x2="553.15" y2="138.3" stroke="#333" stroke-width="0.8" />
<text x="556.25" y="150.9" font-size="8.6" fill="#333" text-anchor="middle" font-weight="normal" font-style="normal" stroke="#333" stroke-width="0.3" >210</text>
<line x1="576.7" y1="140.3" x2="576.7" y2="138.3" stroke="#333" stroke-width="0.8" />
<text x="579.3" y="150.9" font-size="8.6" fill="#333" text-anchor="middle" font-weight="normal" font-style="normal" stroke="#333" stroke-width="0.3" >230</text>
<line x1="315.2" y1="11.5" x2="317.7" y2="11.5" stroke="#333" stroke-width="0.8" />
<text x="314.2" y="13.9" font-size="8.6" fill="#333" text-anchor="end" font-weight="normal" font-style="normal" stroke="#333" stroke-width="0.3" >0</text>
<line x1="315.2" y1="34.5" x2="317.7" y2="34.5" stroke="#333" stroke-width="0.8" />
<text x="314.2" y="36.9" font-size="8.6" fill="#333" text-anchor="end" font-weight="normal" font-style="normal" stroke="#333" stroke-width="0.3" >10</text>
<line x1="315.2" y1="57.5" x2="317.7" y2="57.5" stroke="#333" stroke-width="0.8" />
<text x="314.2" y="59.9" font-size="8.6" fill="#333" text-anchor="end" font-weight="normal" font-style="normal" stroke="#333" stroke-width="0.3" >20</text>
<line x1="315.2" y1="80.5" x2="317.7" y2="80.5" stroke="#333" stroke-width="0.8" />
<text x="314.2" y="82.9" font-size="8.6" fill="#333" text-anchor="end" font-weight="normal" font-style="normal" stroke="#333" stroke-width="0.3" >30</text>
<line x1="315.2" y1="103.5" x2="317.7" y2="103.5" stroke="#333" stroke-width="0.8" />
<text x="314.2" y="105.9" font-size="8.6" fill="#333" text-anchor="end" font-weight="normal" font-style="normal" stroke="#333" stroke-width="0.3" >40</text>
<line x1="315.2" y1="126.5" x2="317.7" y2="126.5" stroke="#333" stroke-width="0.8" />
<text x="314.2" y="128.9" font-size="8.6" fill="#333" text-anchor="end" font-weight="normal" font-style="normal" stroke="#333" stroke-width="0.3" >50</text>
<text x="318.2" y="10.1" font-size="8.8" fill="#333" text-anchor="start" font-weight="normal" font-style="italic" stroke="#333" stroke-width="0.3" >RT model</text>
<text x="576.2" y="10.1" font-size="8.8" fill="#333" text-anchor="end" font-weight="normal" font-style="italic" stroke="#333" stroke-width="0.3" >Dehydration profile</text>
<text x="157.55" y="161.5" font-size="8.9" fill="#333" text-anchor="middle" font-weight="normal" font-style="normal" stroke="#333" stroke-width="0.3" >Slab depth (km)</text>
<text x="447.2" y="161.5" font-size="8.9" fill="#333" text-anchor="middle" font-weight="normal" font-style="normal" stroke="#333" stroke-width="0.3" >Slab depth (km)</text>
<text x="708" y="161.5" font-size="8.9" fill="#333" text-anchor="middle" font-weight="normal" font-style="normal" stroke="#333" stroke-width="0.3" >Slab depth (km)</text>
<text transform="translate(9.2,67.9) rotate(-90)" font-size="8.9" fill="#333" stroke="#333" stroke-width="0.3" text-anchor="middle">In-slab depth (km)</text>
<text transform="translate(298.4,67.9) rotate(-90)" font-size="8.9" fill="#333" stroke="#333" stroke-width="0.3" text-anchor="middle">In-slab depth (km)</text>
<text transform="translate(590.8,74.7) rotate(-90)" font-size="8.9" fill="#333" stroke="#333" stroke-width="0.3" text-anchor="middle">Mol (% vs. initial composition)</text>
<line x1="28.6" y1="299.3" x2="28.6" y2="297.3" stroke="#333" stroke-width="0.8" />
<text x="29.5" y="309.9" font-size="8.6" fill="#333" text-anchor="middle" font-weight="normal" font-style="normal" stroke="#333" stroke-width="0.3" >10</text>
<line x1="52.05" y1="299.3" x2="52.05" y2="297.3" stroke="#333" stroke-width="0.8" />
<text x="52.35" y="309.9" font-size="8.6" fill="#333" text-anchor="middle" font-weight="normal" font-style="normal" stroke="#333" stroke-width="0.3" >30</text>
<line x1="75.49" y1="299.3" x2="75.49" y2="297.3" stroke="#333" stroke-width="0.8" />
<text x="76.89" y="309.9" font-size="8.6" fill="#333" text-anchor="middle" font-weight="normal" font-style="normal" stroke="#333" stroke-width="0.3" >50</text>
<line x1="98.94" y1="299.3" x2="98.94" y2="297.3" stroke="#333" stroke-width="0.8" />
<text x="99.84" y="309.9" font-size="8.6" fill="#333" text-anchor="middle" font-weight="normal" font-style="normal" stroke="#333" stroke-width="0.3" >70</text>
<line x1="122.38" y1="299.3" x2="122.38" y2="297.3" stroke="#333" stroke-width="0.8" />
<text x="124.23" y="309.9" font-size="8.6" fill="#333" text-anchor="middle" font-weight="normal" font-style="normal" stroke="#333" stroke-width="0.3" >90</text>
<line x1="145.83" y1="299.3" x2="145.83" y2="297.3" stroke="#333" stroke-width="0.8" />
<text x="148.33" y="309.9" font-size="8.6" fill="#333" text-anchor="middle" font-weight="normal" font-style="normal" stroke="#333" stroke-width="0.3" >110</text>
<line x1="169.27" y1="299.3" x2="169.27" y2="297.3" stroke="#333" stroke-width="0.8" />
<text x="173.47" y="309.9" font-size="8.6" fill="#333" text-anchor="middle" font-weight="normal" font-style="normal" stroke="#333" stroke-width="0.3" >130</text>
<line x1="192.72" y1="299.3" x2="192.72" y2="297.3" stroke="#333" stroke-width="0.8" />
<text x="195.52" y="309.9" font-size="8.6" fill="#333" text-anchor="middle" font-weight="normal" font-style="normal" stroke="#333" stroke-width="0.3" >150</text>
<line x1="216.16" y1="299.3" x2="216.16" y2="297.3" stroke="#333" stroke-width="0.8" />
<text x="219.86" y="309.9" font-size="8.6" fill="#333" text-anchor="middle" font-weight="normal" font-style="normal" stroke="#333" stroke-width="0.3" >170</text>
<line x1="239.61" y1="299.3" x2="239.61" y2="297.3" stroke="#333" stroke-width="0.8" />
<text x="241.91" y="309.9" font-size="8.6" fill="#333" text-anchor="middle" font-weight="normal" font-style="normal" stroke="#333" stroke-width="0.3" >190</text>
<line x1="263.05" y1="299.3" x2="263.05" y2="297.3" stroke="#333" stroke-width="0.8" />
<text x="266.15" y="309.9" font-size="8.6" fill="#333" text-anchor="middle" font-weight="normal" font-style="normal" stroke="#333" stroke-width="0.3" >210</text>
<line x1="286.5" y1="299.3" x2="286.5" y2="297.3" stroke="#333" stroke-width="0.8" />
<text x="289.1" y="309.9" font-size="8.6" fill="#333" text-anchor="middle" font-weight="normal" font-style="normal" stroke="#333" stroke-width="0.3" >230</text>
<line x1="26.1" y1="170.2" x2="28.6" y2="170.2" stroke="#333" stroke-width="0.8" />
<text x="25.1" y="172.6" font-size="8.6" fill="#333" text-anchor="end" font-weight="normal" font-style="normal" stroke="#333" stroke-width="0.3" >0</text>
<line x1="26.1" y1="193.25" x2="28.6" y2="193.25" stroke="#333" stroke-width="0.8" />
<text x="25.1" y="195.65" font-size="8.6" fill="#333" text-anchor="end" font-weight="normal" font-style="normal" stroke="#333" stroke-width="0.3" >10</text>
<line x1="26.1" y1="216.31" x2="28.6" y2="216.31" stroke="#333" stroke-width="0.8" />
<text x="25.1" y="218.71" font-size="8.6" fill="#333" text-anchor="end" font-weight="normal" font-style="normal" stroke="#333" stroke-width="0.3" >20</text>
<line x1="26.1" y1="239.36" x2="28.6" y2="239.36" stroke="#333" stroke-width="0.8" />
<text x="25.1" y="241.76" font-size="8.6" fill="#333" text-anchor="end" font-weight="normal" font-style="normal" stroke="#333" stroke-width="0.3" >30</text>
<line x1="26.1" y1="262.41" x2="28.6" y2="262.41" stroke="#333" stroke-width="0.8" />
<text x="25.1" y="264.81" font-size="8.6" fill="#333" text-anchor="end" font-weight="normal" font-style="normal" stroke="#333" stroke-width="0.3" >40</text>
<line x1="26.1" y1="285.47" x2="28.6" y2="285.47" stroke="#333" stroke-width="0.8" />
<text x="25.1" y="287.87" font-size="8.6" fill="#333" text-anchor="end" font-weight="normal" font-style="normal" stroke="#333" stroke-width="0.3" >50</text>
<text x="29.1" y="168.8" font-size="8.8" fill="#333" text-anchor="start" font-weight="normal" font-style="italic" stroke="#333" stroke-width="0.3" >CFE model</text>
<text x="286" y="168.8" font-size="8.8" fill="#333" text-anchor="end" font-weight="normal" font-style="italic" stroke="#333" stroke-width="0.3" >Desulfurization profile</text>
<line x1="317.7" y1="299.3" x2="317.7" y2="297.3" stroke="#333" stroke-width="0.8" />
<text x="318.6" y="309.9" font-size="8.6" fill="#333" text-anchor="middle" font-weight="normal" font-style="normal" stroke="#333" stroke-width="0.3" >10</text>
<line x1="341.25" y1="299.3" x2="341.25" y2="297.3" stroke="#333" stroke-width="0.8" />
<text x="341.55" y="309.9" font-size="8.6" fill="#333" text-anchor="middle" font-weight="normal" font-style="normal" stroke="#333" stroke-width="0.3" >30</text>
<line x1="364.79" y1="299.3" x2="364.79" y2="297.3" stroke="#333" stroke-width="0.8" />
<text x="366.19" y="309.9" font-size="8.6" fill="#333" text-anchor="middle" font-weight="normal" font-style="normal" stroke="#333" stroke-width="0.3" >50</text>
<line x1="388.34" y1="299.3" x2="388.34" y2="297.3" stroke="#333" stroke-width="0.8" />
<text x="389.24" y="309.9" font-size="8.6" fill="#333" text-anchor="middle" font-weight="normal" font-style="normal" stroke="#333" stroke-width="0.3" >70</text>
<line x1="411.88" y1="299.3" x2="411.88" y2="297.3" stroke="#333" stroke-width="0.8" />
<text x="413.73" y="309.9" font-size="8.6" fill="#333" text-anchor="middle" font-weight="normal" font-style="normal" stroke="#333" stroke-width="0.3" >90</text>
<line x1="435.43" y1="299.3" x2="435.43" y2="297.3" stroke="#333" stroke-width="0.8" />
<text x="437.93" y="309.9" font-size="8.6" fill="#333" text-anchor="middle" font-weight="normal" font-style="normal" stroke="#333" stroke-width="0.3" >110</text>
<line x1="458.97" y1="299.3" x2="458.97" y2="297.3" stroke="#333" stroke-width="0.8" />
<text x="463.17" y="309.9" font-size="8.6" fill="#333" text-anchor="middle" font-weight="normal" font-style="normal" stroke="#333" stroke-width="0.3" >130</text>
<line x1="482.52" y1="299.3" x2="482.52" y2="297.3" stroke="#333" stroke-width="0.8" />
<text x="485.32" y="309.9" font-size="8.6" fill="#333" text-anchor="middle" font-weight="normal" font-style="normal" stroke="#333" stroke-width="0.3" >150</text>
<line x1="506.06" y1="299.3" x2="506.06" y2="297.3" stroke="#333" stroke-width="0.8" />
<text x="509.76" y="309.9" font-size="8.6" fill="#333" text-anchor="middle" font-weight="normal" font-style="normal" stroke="#333" stroke-width="0.3" >170</text>
<line x1="529.61" y1="299.3" x2="529.61" y2="297.3" stroke="#333" stroke-width="0.8" />
<text x="531.91" y="309.9" font-size="8.6" fill="#333" text-anchor="middle" font-weight="normal" font-style="normal" stroke="#333" stroke-width="0.3" >190</text>
<line x1="553.15" y1="299.3" x2="553.15" y2="297.3" stroke="#333" stroke-width="0.8" />
<text x="556.25" y="309.9" font-size="8.6" fill="#333" text-anchor="middle" font-weight="normal" font-style="normal" stroke="#333" stroke-width="0.3" >210</text>
<line x1="576.7" y1="299.3" x2="576.7" y2="297.3" stroke="#333" stroke-width="0.8" />
<text x="579.3" y="309.9" font-size="8.6" fill="#333" text-anchor="middle" font-weight="normal" font-style="normal" stroke="#333" stroke-width="0.3" >230</text>
<line x1="315.2" y1="170.2" x2="317.7" y2="170.2" stroke="#333" stroke-width="0.8" />
<text x="314.2" y="172.6" font-size="8.6" fill="#333" text-anchor="end" font-weight="normal" font-style="normal" stroke="#333" stroke-width="0.3" >0</text>
<line x1="315.2" y1="193.25" x2="317.7" y2="193.25" stroke="#333" stroke-width="0.8" />
<text x="314.2" y="195.65" font-size="8.6" fill="#333" text-anchor="end" font-weight="normal" font-style="normal" stroke="#333" stroke-width="0.3" >10</text>
<line x1="315.2" y1="216.31" x2="317.7" y2="216.31" stroke="#333" stroke-width="0.8" />
<text x="314.2" y="218.71" font-size="8.6" fill="#333" text-anchor="end" font-weight="normal" font-style="normal" stroke="#333" stroke-width="0.3" >20</text>
<line x1="315.2" y1="239.36" x2="317.7" y2="239.36" stroke="#333" stroke-width="0.8" />
<text x="314.2" y="241.76" font-size="8.6" fill="#333" text-anchor="end" font-weight="normal" font-style="normal" stroke="#333" stroke-width="0.3" >30</text>
<line x1="315.2" y1="262.41" x2="317.7" y2="262.41" stroke="#333" stroke-width="0.8" />
<text x="314.2" y="264.81" font-size="8.6" fill="#333" text-anchor="end" font-weight="normal" font-style="normal" stroke="#333" stroke-width="0.3" >40</text>
<line x1="315.2" y1="285.47" x2="317.7" y2="285.47" stroke="#333" stroke-width="0.8" />
<text x="314.2" y="287.87" font-size="8.6" fill="#333" text-anchor="end" font-weight="normal" font-style="normal" stroke="#333" stroke-width="0.3" >50</text>
<text x="318.2" y="168.8" font-size="8.8" fill="#333" text-anchor="start" font-weight="normal" font-style="italic" stroke="#333" stroke-width="0.3" >RT model</text>
<text x="576.2" y="168.8" font-size="8.8" fill="#333" text-anchor="end" font-weight="normal" font-style="italic" stroke="#333" stroke-width="0.3" >Desulfurization profile</text>
<text x="157.55" y="320.5" font-size="8.9" fill="#333" text-anchor="middle" font-weight="normal" font-style="normal" stroke="#333" stroke-width="0.3" >Slab depth (km)</text>
<text x="447.2" y="320.5" font-size="8.9" fill="#333" text-anchor="middle" font-weight="normal" font-style="normal" stroke="#333" stroke-width="0.3" >Slab depth (km)</text>
<text x="708" y="320.5" font-size="8.9" fill="#333" text-anchor="middle" font-weight="normal" font-style="normal" stroke="#333" stroke-width="0.3" >Slab depth (km)</text>
<text transform="translate(9.2,226.75) rotate(-90)" font-size="8.9" fill="#333" stroke="#333" stroke-width="0.3" text-anchor="middle">In-slab depth (km)</text>
<text transform="translate(298.4,226.75) rotate(-90)" font-size="8.9" fill="#333" stroke="#333" stroke-width="0.3" text-anchor="middle">In-slab depth (km)</text>
<text transform="translate(590.8,233.55) rotate(-90)" font-size="8.9" fill="#333" stroke="#333" stroke-width="0.3" text-anchor="middle">Mol (% vs. initial composition)</text>
<line x1="28.6" y1="456" x2="28.6" y2="454" stroke="#333" stroke-width="0.8" />
<text x="29.5" y="466.6" font-size="8.6" fill="#333" text-anchor="middle" font-weight="normal" font-style="normal" stroke="#333" stroke-width="0.3" >10</text>
<line x1="52.05" y1="456" x2="52.05" y2="454" stroke="#333" stroke-width="0.8" />
<text x="52.35" y="466.6" font-size="8.6" fill="#333" text-anchor="middle" font-weight="normal" font-style="normal" stroke="#333" stroke-width="0.3" >30</text>
<line x1="75.49" y1="456" x2="75.49" y2="454" stroke="#333" stroke-width="0.8" />
<text x="76.89" y="466.6" font-size="8.6" fill="#333" text-anchor="middle" font-weight="normal" font-style="normal" stroke="#333" stroke-width="0.3" >50</text>
<line x1="98.94" y1="456" x2="98.94" y2="454" stroke="#333" stroke-width="0.8" />
<text x="99.84" y="466.6" font-size="8.6" fill="#333" text-anchor="middle" font-weight="normal" font-style="normal" stroke="#333" stroke-width="0.3" >70</text>
<line x1="122.38" y1="456" x2="122.38" y2="454" stroke="#333" stroke-width="0.8" />
<text x="124.23" y="466.6" font-size="8.6" fill="#333" text-anchor="middle" font-weight="normal" font-style="normal" stroke="#333" stroke-width="0.3" >90</text>
<line x1="145.83" y1="456" x2="145.83" y2="454" stroke="#333" stroke-width="0.8" />
<text x="148.33" y="466.6" font-size="8.6" fill="#333" text-anchor="middle" font-weight="normal" font-style="normal" stroke="#333" stroke-width="0.3" >110</text>
<line x1="169.27" y1="456" x2="169.27" y2="454" stroke="#333" stroke-width="0.8" />
<text x="173.47" y="466.6" font-size="8.6" fill="#333" text-anchor="middle" font-weight="normal" font-style="normal" stroke="#333" stroke-width="0.3" >130</text>
<line x1="192.72" y1="456" x2="192.72" y2="454" stroke="#333" stroke-width="0.8" />
<text x="195.52" y="466.6" font-size="8.6" fill="#333" text-anchor="middle" font-weight="normal" font-style="normal" stroke="#333" stroke-width="0.3" >150</text>
<line x1="216.16" y1="456" x2="216.16" y2="454" stroke="#333" stroke-width="0.8" />
<text x="219.86" y="466.6" font-size="8.6" fill="#333" text-anchor="middle" font-weight="normal" font-style="normal" stroke="#333" stroke-width="0.3" >170</text>
<line x1="239.61" y1="456" x2="239.61" y2="454" stroke="#333" stroke-width="0.8" />
<text x="241.91" y="466.6" font-size="8.6" fill="#333" text-anchor="middle" font-weight="normal" font-style="normal" stroke="#333" stroke-width="0.3" >190</text>
<line x1="263.05" y1="456" x2="263.05" y2="454" stroke="#333" stroke-width="0.8" />
<text x="266.15" y="466.6" font-size="8.6" fill="#333" text-anchor="middle" font-weight="normal" font-style="normal" stroke="#333" stroke-width="0.3" >210</text>
<line x1="286.5" y1="456" x2="286.5" y2="454" stroke="#333" stroke-width="0.8" />
<text x="289.1" y="466.6" font-size="8.6" fill="#333" text-anchor="middle" font-weight="normal" font-style="normal" stroke="#333" stroke-width="0.3" >230</text>
<line x1="26.1" y1="327.2" x2="28.6" y2="327.2" stroke="#333" stroke-width="0.8" />
<text x="25.1" y="329.6" font-size="8.6" fill="#333" text-anchor="end" font-weight="normal" font-style="normal" stroke="#333" stroke-width="0.3" >0</text>
<line x1="26.1" y1="350.2" x2="28.6" y2="350.2" stroke="#333" stroke-width="0.8" />
<text x="25.1" y="352.6" font-size="8.6" fill="#333" text-anchor="end" font-weight="normal" font-style="normal" stroke="#333" stroke-width="0.3" >10</text>
<line x1="26.1" y1="373.2" x2="28.6" y2="373.2" stroke="#333" stroke-width="0.8" />
<text x="25.1" y="375.6" font-size="8.6" fill="#333" text-anchor="end" font-weight="normal" font-style="normal" stroke="#333" stroke-width="0.3" >20</text>
<line x1="26.1" y1="396.2" x2="28.6" y2="396.2" stroke="#333" stroke-width="0.8" />
<text x="25.1" y="398.6" font-size="8.6" fill="#333" text-anchor="end" font-weight="normal" font-style="normal" stroke="#333" stroke-width="0.3" >30</text>
<line x1="26.1" y1="419.2" x2="28.6" y2="419.2" stroke="#333" stroke-width="0.8" />
<text x="25.1" y="421.6" font-size="8.6" fill="#333" text-anchor="end" font-weight="normal" font-style="normal" stroke="#333" stroke-width="0.3" >40</text>
<line x1="26.1" y1="442.2" x2="28.6" y2="442.2" stroke="#333" stroke-width="0.8" />
<text x="25.1" y="444.6" font-size="8.6" fill="#333" text-anchor="end" font-weight="normal" font-style="normal" stroke="#333" stroke-width="0.3" >50</text>
<text x="29.1" y="325.8" font-size="8.8" fill="#333" text-anchor="start" font-weight="normal" font-style="italic" stroke="#333" stroke-width="0.3" >CFE model</text>
<text x="286" y="325.8" font-size="8.8" fill="#333" text-anchor="end" font-weight="normal" font-style="italic" stroke="#333" stroke-width="0.3" >Decarbonization profile</text>
<line x1="317.7" y1="456" x2="317.7" y2="454" stroke="#333" stroke-width="0.8" />
<text x="318.6" y="466.6" font-size="8.6" fill="#333" text-anchor="middle" font-weight="normal" font-style="normal" stroke="#333" stroke-width="0.3" >10</text>
<line x1="341.25" y1="456" x2="341.25" y2="454" stroke="#333" stroke-width="0.8" />
<text x="341.55" y="466.6" font-size="8.6" fill="#333" text-anchor="middle" font-weight="normal" font-style="normal" stroke="#333" stroke-width="0.3" >30</text>
<line x1="364.79" y1="456" x2="364.79" y2="454" stroke="#333" stroke-width="0.8" />
<text x="366.19" y="466.6" font-size="8.6" fill="#333" text-anchor="middle" font-weight="normal" font-style="normal" stroke="#333" stroke-width="0.3" >50</text>
<line x1="388.34" y1="456" x2="388.34" y2="454" stroke="#333" stroke-width="0.8" />
<text x="389.24" y="466.6" font-size="8.6" fill="#333" text-anchor="middle" font-weight="normal" font-style="normal" stroke="#333" stroke-width="0.3" >70</text>
<line x1="411.88" y1="456" x2="411.88" y2="454" stroke="#333" stroke-width="0.8" />
<text x="413.73" y="466.6" font-size="8.6" fill="#333" text-anchor="middle" font-weight="normal" font-style="normal" stroke="#333" stroke-width="0.3" >90</text>
<line x1="435.43" y1="456" x2="435.43" y2="454" stroke="#333" stroke-width="0.8" />
<text x="437.93" y="466.6" font-size="8.6" fill="#333" text-anchor="middle" font-weight="normal" font-style="normal" stroke="#333" stroke-width="0.3" >110</text>
<line x1="458.97" y1="456" x2="458.97" y2="454" stroke="#333" stroke-width="0.8" />
<text x="463.17" y="466.6" font-size="8.6" fill="#333" text-anchor="middle" font-weight="normal" font-style="normal" stroke="#333" stroke-width="0.3" >130</text>
<line x1="482.52" y1="456" x2="482.52" y2="454" stroke="#333" stroke-width="0.8" />
<text x="485.32" y="466.6" font-size="8.6" fill="#333" text-anchor="middle" font-weight="normal" font-style="normal" stroke="#333" stroke-width="0.3" >150</text>
<line x1="506.06" y1="456" x2="506.06" y2="454" stroke="#333" stroke-width="0.8" />
<text x="509.76" y="466.6" font-size="8.6" fill="#333" text-anchor="middle" font-weight="normal" font-style="normal" stroke="#333" stroke-width="0.3" >170</text>
<line x1="529.61" y1="456" x2="529.61" y2="454" stroke="#333" stroke-width="0.8" />
<text x="531.91" y="466.6" font-size="8.6" fill="#333" text-anchor="middle" font-weight="normal" font-style="normal" stroke="#333" stroke-width="0.3" >190</text>
<line x1="553.15" y1="456" x2="553.15" y2="454" stroke="#333" stroke-width="0.8" />
<text x="556.25" y="466.6" font-size="8.6" fill="#333" text-anchor="middle" font-weight="normal" font-style="normal" stroke="#333" stroke-width="0.3" >210</text>
<line x1="576.7" y1="456" x2="576.7" y2="454" stroke="#333" stroke-width="0.8" />
<text x="579.3" y="466.6" font-size="8.6" fill="#333" text-anchor="middle" font-weight="normal" font-style="normal" stroke="#333" stroke-width="0.3" >230</text>
<line x1="315.2" y1="327.2" x2="317.7" y2="327.2" stroke="#333" stroke-width="0.8" />
<text x="314.2" y="329.6" font-size="8.6" fill="#333" text-anchor="end" font-weight="normal" font-style="normal" stroke="#333" stroke-width="0.3" >0</text>
<line x1="315.2" y1="350.2" x2="317.7" y2="350.2" stroke="#333" stroke-width="0.8" />
<text x="314.2" y="352.6" font-size="8.6" fill="#333" text-anchor="end" font-weight="normal" font-style="normal" stroke="#333" stroke-width="0.3" >10</text>
<line x1="315.2" y1="373.2" x2="317.7" y2="373.2" stroke="#333" stroke-width="0.8" />
<text x="314.2" y="375.6" font-size="8.6" fill="#333" text-anchor="end" font-weight="normal" font-style="normal" stroke="#333" stroke-width="0.3" >20</text>
<line x1="315.2" y1="396.2" x2="317.7" y2="396.2" stroke="#333" stroke-width="0.8" />
<text x="314.2" y="398.6" font-size="8.6" fill="#333" text-anchor="end" font-weight="normal" font-style="normal" stroke="#333" stroke-width="0.3" >30</text>
<line x1="315.2" y1="419.2" x2="317.7" y2="419.2" stroke="#333" stroke-width="0.8" />
<text x="314.2" y="421.6" font-size="8.6" fill="#333" text-anchor="end" font-weight="normal" font-style="normal" stroke="#333" stroke-width="0.3" >40</text>
<line x1="315.2" y1="442.2" x2="317.7" y2="442.2" stroke="#333" stroke-width="0.8" />
<text x="314.2" y="444.6" font-size="8.6" fill="#333" text-anchor="end" font-weight="normal" font-style="normal" stroke="#333" stroke-width="0.3" >50</text>
<text x="318.2" y="325.8" font-size="8.8" fill="#333" text-anchor="start" font-weight="normal" font-style="italic" stroke="#333" stroke-width="0.3" >RT model</text>
<text x="576.2" y="325.8" font-size="8.8" fill="#333" text-anchor="end" font-weight="normal" font-style="italic" stroke="#333" stroke-width="0.3" >Decarbonization profile</text>
<text x="157.55" y="477.2" font-size="8.9" fill="#333" text-anchor="middle" font-weight="normal" font-style="normal" stroke="#333" stroke-width="0.3" >Slab depth (km)</text>
<text x="447.2" y="477.2" font-size="8.9" fill="#333" text-anchor="middle" font-weight="normal" font-style="normal" stroke="#333" stroke-width="0.3" >Slab depth (km)</text>
<text x="708" y="477.2" font-size="8.9" fill="#333" text-anchor="middle" font-weight="normal" font-style="normal" stroke="#333" stroke-width="0.3" >Slab depth (km)</text>
<text transform="translate(9.2,383.6) rotate(-90)" font-size="8.9" fill="#333" stroke="#333" stroke-width="0.3" text-anchor="middle">In-slab depth (km)</text>
<text transform="translate(298.4,383.6) rotate(-90)" font-size="8.9" fill="#333" stroke="#333" stroke-width="0.3" text-anchor="middle">In-slab depth (km)</text>
<text transform="translate(590.8,390.4) rotate(-90)" font-size="8.9" fill="#333" stroke="#333" stroke-width="0.3" text-anchor="middle">Mol (% vs. initial composition)</text>
<line x1="28.6" y1="613.6" x2="28.6" y2="611.6" stroke="#333" stroke-width="0.8" />
<text x="29.5" y="624.2" font-size="8.6" fill="#333" text-anchor="middle" font-weight="normal" font-style="normal" stroke="#333" stroke-width="0.3" >10</text>
<line x1="52.05" y1="613.6" x2="52.05" y2="611.6" stroke="#333" stroke-width="0.8" />
<text x="52.35" y="624.2" font-size="8.6" fill="#333" text-anchor="middle" font-weight="normal" font-style="normal" stroke="#333" stroke-width="0.3" >30</text>
<line x1="75.49" y1="613.6" x2="75.49" y2="611.6" stroke="#333" stroke-width="0.8" />
<text x="76.89" y="624.2" font-size="8.6" fill="#333" text-anchor="middle" font-weight="normal" font-style="normal" stroke="#333" stroke-width="0.3" >50</text>
<line x1="98.94" y1="613.6" x2="98.94" y2="611.6" stroke="#333" stroke-width="0.8" />
<text x="99.84" y="624.2" font-size="8.6" fill="#333" text-anchor="middle" font-weight="normal" font-style="normal" stroke="#333" stroke-width="0.3" >70</text>
<line x1="122.38" y1="613.6" x2="122.38" y2="611.6" stroke="#333" stroke-width="0.8" />
<text x="124.23" y="624.2" font-size="8.6" fill="#333" text-anchor="middle" font-weight="normal" font-style="normal" stroke="#333" stroke-width="0.3" >90</text>
<line x1="145.83" y1="613.6" x2="145.83" y2="611.6" stroke="#333" stroke-width="0.8" />
<text x="148.33" y="624.2" font-size="8.6" fill="#333" text-anchor="middle" font-weight="normal" font-style="normal" stroke="#333" stroke-width="0.3" >110</text>
<line x1="169.27" y1="613.6" x2="169.27" y2="611.6" stroke="#333" stroke-width="0.8" />
<text x="173.47" y="624.2" font-size="8.6" fill="#333" text-anchor="middle" font-weight="normal" font-style="normal" stroke="#333" stroke-width="0.3" >130</text>
<line x1="192.72" y1="613.6" x2="192.72" y2="611.6" stroke="#333" stroke-width="0.8" />
<text x="195.52" y="624.2" font-size="8.6" fill="#333" text-anchor="middle" font-weight="normal" font-style="normal" stroke="#333" stroke-width="0.3" >150</text>
<line x1="216.16" y1="613.6" x2="216.16" y2="611.6" stroke="#333" stroke-width="0.8" />
<text x="219.86" y="624.2" font-size="8.6" fill="#333" text-anchor="middle" font-weight="normal" font-style="normal" stroke="#333" stroke-width="0.3" >170</text>
<line x1="239.61" y1="613.6" x2="239.61" y2="611.6" stroke="#333" stroke-width="0.8" />
<text x="241.91" y="624.2" font-size="8.6" fill="#333" text-anchor="middle" font-weight="normal" font-style="normal" stroke="#333" stroke-width="0.3" >190</text>
<line x1="263.05" y1="613.6" x2="263.05" y2="611.6" stroke="#333" stroke-width="0.8" />
<text x="266.15" y="624.2" font-size="8.6" fill="#333" text-anchor="middle" font-weight="normal" font-style="normal" stroke="#333" stroke-width="0.3" >210</text>
<line x1="286.5" y1="613.6" x2="286.5" y2="611.6" stroke="#333" stroke-width="0.8" />
<text x="289.1" y="624.2" font-size="8.6" fill="#333" text-anchor="middle" font-weight="normal" font-style="normal" stroke="#333" stroke-width="0.3" >230</text>
<line x1="26.1" y1="485" x2="28.6" y2="485" stroke="#333" stroke-width="0.8" />
<text x="25.1" y="487.4" font-size="8.6" fill="#333" text-anchor="end" font-weight="normal" font-style="normal" stroke="#333" stroke-width="0.3" >0</text>
<line x1="26.1" y1="507.96" x2="28.6" y2="507.96" stroke="#333" stroke-width="0.8" />
<text x="25.1" y="510.36" font-size="8.6" fill="#333" text-anchor="end" font-weight="normal" font-style="normal" stroke="#333" stroke-width="0.3" >10</text>
<line x1="26.1" y1="530.93" x2="28.6" y2="530.93" stroke="#333" stroke-width="0.8" />
<text x="25.1" y="533.33" font-size="8.6" fill="#333" text-anchor="end" font-weight="normal" font-style="normal" stroke="#333" stroke-width="0.3" >20</text>
<line x1="26.1" y1="553.89" x2="28.6" y2="553.89" stroke="#333" stroke-width="0.8" />
<text x="25.1" y="556.29" font-size="8.6" fill="#333" text-anchor="end" font-weight="normal" font-style="normal" stroke="#333" stroke-width="0.3" >30</text>
<line x1="26.1" y1="576.86" x2="28.6" y2="576.86" stroke="#333" stroke-width="0.8" />
<text x="25.1" y="579.26" font-size="8.6" fill="#333" text-anchor="end" font-weight="normal" font-style="normal" stroke="#333" stroke-width="0.3" >40</text>
<line x1="26.1" y1="599.82" x2="28.6" y2="599.82" stroke="#333" stroke-width="0.8" />
<text x="25.1" y="602.22" font-size="8.6" fill="#333" text-anchor="end" font-weight="normal" font-style="normal" stroke="#333" stroke-width="0.3" >50</text>
<text x="29.1" y="483.6" font-size="8.8" fill="#333" text-anchor="start" font-weight="normal" font-style="italic" stroke="#333" stroke-width="0.3" >CFE model</text>
<text x="286" y="483.6" font-size="8.8" fill="#333" text-anchor="end" font-weight="normal" font-style="italic" stroke="#333" stroke-width="0.3" >Total iron profile</text>
<line x1="317.7" y1="613.6" x2="317.7" y2="611.6" stroke="#333" stroke-width="0.8" />
<text x="318.6" y="624.2" font-size="8.6" fill="#333" text-anchor="middle" font-weight="normal" font-style="normal" stroke="#333" stroke-width="0.3" >10</text>
<line x1="341.25" y1="613.6" x2="341.25" y2="611.6" stroke="#333" stroke-width="0.8" />
<text x="341.55" y="624.2" font-size="8.6" fill="#333" text-anchor="middle" font-weight="normal" font-style="normal" stroke="#333" stroke-width="0.3" >30</text>
<line x1="364.79" y1="613.6" x2="364.79" y2="611.6" stroke="#333" stroke-width="0.8" />
<text x="366.19" y="624.2" font-size="8.6" fill="#333" text-anchor="middle" font-weight="normal" font-style="normal" stroke="#333" stroke-width="0.3" >50</text>
<line x1="388.34" y1="613.6" x2="388.34" y2="611.6" stroke="#333" stroke-width="0.8" />
<text x="389.24" y="624.2" font-size="8.6" fill="#333" text-anchor="middle" font-weight="normal" font-style="normal" stroke="#333" stroke-width="0.3" >70</text>
<line x1="411.88" y1="613.6" x2="411.88" y2="611.6" stroke="#333" stroke-width="0.8" />
<text x="413.73" y="624.2" font-size="8.6" fill="#333" text-anchor="middle" font-weight="normal" font-style="normal" stroke="#333" stroke-width="0.3" >90</text>
<line x1="435.43" y1="613.6" x2="435.43" y2="611.6" stroke="#333" stroke-width="0.8" />
<text x="437.93" y="624.2" font-size="8.6" fill="#333" text-anchor="middle" font-weight="normal" font-style="normal" stroke="#333" stroke-width="0.3" >110</text>
<line x1="458.97" y1="613.6" x2="458.97" y2="611.6" stroke="#333" stroke-width="0.8" />
<text x="463.17" y="624.2" font-size="8.6" fill="#333" text-anchor="middle" font-weight="normal" font-style="normal" stroke="#333" stroke-width="0.3" >130</text>
<line x1="482.52" y1="613.6" x2="482.52" y2="611.6" stroke="#333" stroke-width="0.8" />
<text x="485.32" y="624.2" font-size="8.6" fill="#333" text-anchor="middle" font-weight="normal" font-style="normal" stroke="#333" stroke-width="0.3" >150</text>
<line x1="506.06" y1="613.6" x2="506.06" y2="611.6" stroke="#333" stroke-width="0.8" />
<text x="509.76" y="624.2" font-size="8.6" fill="#333" text-anchor="middle" font-weight="normal" font-style="normal" stroke="#333" stroke-width="0.3" >170</text>
<line x1="529.61" y1="613.6" x2="529.61" y2="611.6" stroke="#333" stroke-width="0.8" />
<text x="531.91" y="624.2" font-size="8.6" fill="#333" text-anchor="middle" font-weight="normal" font-style="normal" stroke="#333" stroke-width="0.3" >190</text>
<line x1="553.15" y1="613.6" x2="553.15" y2="611.6" stroke="#333" stroke-width="0.8" />
<text x="556.25" y="624.2" font-size="8.6" fill="#333" text-anchor="middle" font-weight="normal" font-style="normal" stroke="#333" stroke-width="0.3" >210</text>
<line x1="576.7" y1="613.6" x2="576.7" y2="611.6" stroke="#333" stroke-width="0.8" />
<text x="579.3" y="624.2" font-size="8.6" fill="#333" text-anchor="middle" font-weight="normal" font-style="normal" stroke="#333" stroke-width="0.3" >230</text>
<line x1="315.2" y1="485" x2="317.7" y2="485" stroke="#333" stroke-width="0.8" />
<text x="314.2" y="487.4" font-size="8.6" fill="#333" text-anchor="end" font-weight="normal" font-style="normal" stroke="#333" stroke-width="0.3" >0</text>
<line x1="315.2" y1="507.96" x2="317.7" y2="507.96" stroke="#333" stroke-width="0.8" />
<text x="314.2" y="510.36" font-size="8.6" fill="#333" text-anchor="end" font-weight="normal" font-style="normal" stroke="#333" stroke-width="0.3" >10</text>
<line x1="315.2" y1="530.93" x2="317.7" y2="530.93" stroke="#333" stroke-width="0.8" />
<text x="314.2" y="533.33" font-size="8.6" fill="#333" text-anchor="end" font-weight="normal" font-style="normal" stroke="#333" stroke-width="0.3" >20</text>
<line x1="315.2" y1="553.89" x2="317.7" y2="553.89" stroke="#333" stroke-width="0.8" />
<text x="314.2" y="556.29" font-size="8.6" fill="#333" text-anchor="end" font-weight="normal" font-style="normal" stroke="#333" stroke-width="0.3" >30</text>
<line x1="315.2" y1="576.86" x2="317.7" y2="576.86" stroke="#333" stroke-width="0.8" />
<text x="314.2" y="579.26" font-size="8.6" fill="#333" text-anchor="end" font-weight="normal" font-style="normal" stroke="#333" stroke-width="0.3" >40</text>
<line x1="315.2" y1="599.82" x2="317.7" y2="599.82" stroke="#333" stroke-width="0.8" />
<text x="314.2" y="602.22" font-size="8.6" fill="#333" text-anchor="end" font-weight="normal" font-style="normal" stroke="#333" stroke-width="0.3" >50</text>
<text x="318.2" y="483.6" font-size="8.8" fill="#333" text-anchor="start" font-weight="normal" font-style="italic" stroke="#333" stroke-width="0.3" >RT model</text>
<text x="576.2" y="483.6" font-size="8.8" fill="#333" text-anchor="end" font-weight="normal" font-style="italic" stroke="#333" stroke-width="0.3" >Total iron profile</text>
<text x="157.55" y="634.8" font-size="8.9" fill="#333" text-anchor="middle" font-weight="normal" font-style="normal" stroke="#333" stroke-width="0.3" >Slab depth (km)</text>
<text x="447.2" y="634.8" font-size="8.9" fill="#333" text-anchor="middle" font-weight="normal" font-style="normal" stroke="#333" stroke-width="0.3" >Slab depth (km)</text>
<text x="708" y="634.8" font-size="8.9" fill="#333" text-anchor="middle" font-weight="normal" font-style="normal" stroke="#333" stroke-width="0.3" >Slab depth (km)</text>
<text transform="translate(9.2,541.3) rotate(-90)" font-size="8.9" fill="#333" stroke="#333" stroke-width="0.3" text-anchor="middle">In-slab depth (km)</text>
<text transform="translate(298.4,541.3) rotate(-90)" font-size="8.9" fill="#333" stroke="#333" stroke-width="0.3" text-anchor="middle">In-slab depth (km)</text>
<text transform="translate(590.8,548.1) rotate(-90)" font-size="8.9" fill="#333" stroke="#333" stroke-width="0.3" text-anchor="middle">Mol (% vs. initial composition)</text></svg>
</body></html>
